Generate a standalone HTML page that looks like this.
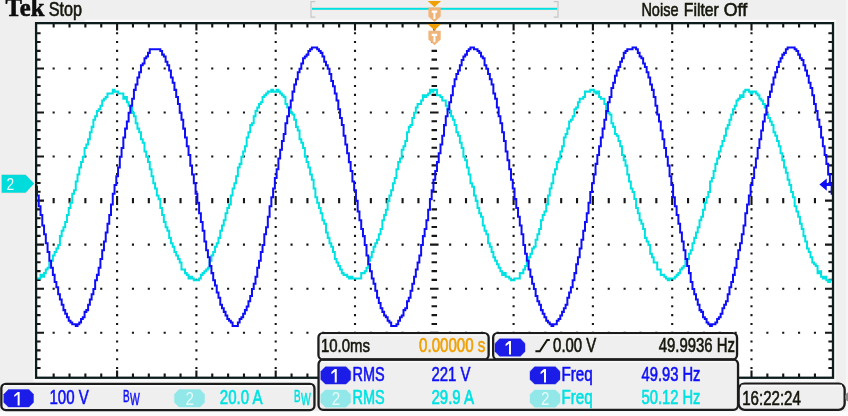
<!DOCTYPE html>
<html><head><meta charset="utf-8"><title>Tek scope</title>
<style>html,body{margin:0;padding:0;background:#efefef;}body{width:848px;height:416px;overflow:hidden;font-family:"Liberation Sans",sans-serif;}svg{display:block;}</style>
</head><body>
<svg width="848" height="416" viewBox="0 0 848 416" font-family="Liberation Sans, sans-serif">
<defs><filter id="soft" x="-10" y="-10" width="868" height="436" filterUnits="userSpaceOnUse"><feGaussianBlur stdDeviation="0.45"/></filter></defs>
<rect x="0" y="0" width="848" height="416" fill="#efefef"/>
<g filter="url(#soft)">
<rect x="-12" y="-12" width="872" height="440" fill="#efefef"/>
<rect x="85" y="19.6" width="751" height="2.6" fill="#fbfbfb"/>
<rect x="845.8" y="-12" width="14" height="440" fill="#f6f6f6"/>
<rect x="35" y="378.5" width="801" height="4.3" fill="#f9f9f9"/>
<rect x="834" y="21" width="2" height="360" fill="#f7f7f7"/>
<rect x="33.2" y="40" width="2" height="342" fill="#f8f8f8"/>
<rect x="-12" y="411.3" width="872" height="18" fill="#fcfcfc"/>
<rect x="36" y="23" width="797" height="355" fill="#ffffff"/>
<path d="M116.05 32.16h2.1v2.1h-2.1zM116.05 40.97h2.1v2.1h-2.1zM116.05 49.78h2.1v2.1h-2.1zM116.05 58.59h2.1v2.1h-2.1zM116.05 67.40h2.1v2.1h-2.1zM116.05 76.21h2.1v2.1h-2.1zM116.05 85.02h2.1v2.1h-2.1zM116.05 93.83h2.1v2.1h-2.1zM116.05 102.64h2.1v2.1h-2.1zM116.05 111.45h2.1v2.1h-2.1zM116.05 120.26h2.1v2.1h-2.1zM116.05 129.07h2.1v2.1h-2.1zM116.05 137.88h2.1v2.1h-2.1zM116.05 146.69h2.1v2.1h-2.1zM116.05 155.50h2.1v2.1h-2.1zM116.05 164.31h2.1v2.1h-2.1zM116.05 173.12h2.1v2.1h-2.1zM116.05 181.93h2.1v2.1h-2.1zM116.05 190.74h2.1v2.1h-2.1zM116.05 199.55h2.1v2.1h-2.1zM116.05 208.36h2.1v2.1h-2.1zM116.05 217.17h2.1v2.1h-2.1zM116.05 225.98h2.1v2.1h-2.1zM116.05 234.79h2.1v2.1h-2.1zM116.05 243.60h2.1v2.1h-2.1zM116.05 252.41h2.1v2.1h-2.1zM116.05 261.22h2.1v2.1h-2.1zM116.05 270.03h2.1v2.1h-2.1zM116.05 278.84h2.1v2.1h-2.1zM116.05 287.65h2.1v2.1h-2.1zM116.05 296.46h2.1v2.1h-2.1zM116.05 305.27h2.1v2.1h-2.1zM116.05 314.08h2.1v2.1h-2.1zM116.05 322.89h2.1v2.1h-2.1zM116.05 331.70h2.1v2.1h-2.1zM116.05 340.51h2.1v2.1h-2.1zM116.05 349.32h2.1v2.1h-2.1zM116.05 358.13h2.1v2.1h-2.1zM116.05 366.94h2.1v2.1h-2.1zM195.35 32.16h2.1v2.1h-2.1zM195.35 40.97h2.1v2.1h-2.1zM195.35 49.78h2.1v2.1h-2.1zM195.35 58.59h2.1v2.1h-2.1zM195.35 67.40h2.1v2.1h-2.1zM195.35 76.21h2.1v2.1h-2.1zM195.35 85.02h2.1v2.1h-2.1zM195.35 93.83h2.1v2.1h-2.1zM195.35 102.64h2.1v2.1h-2.1zM195.35 111.45h2.1v2.1h-2.1zM195.35 120.26h2.1v2.1h-2.1zM195.35 129.07h2.1v2.1h-2.1zM195.35 137.88h2.1v2.1h-2.1zM195.35 146.69h2.1v2.1h-2.1zM195.35 155.50h2.1v2.1h-2.1zM195.35 164.31h2.1v2.1h-2.1zM195.35 173.12h2.1v2.1h-2.1zM195.35 181.93h2.1v2.1h-2.1zM195.35 190.74h2.1v2.1h-2.1zM195.35 199.55h2.1v2.1h-2.1zM195.35 208.36h2.1v2.1h-2.1zM195.35 217.17h2.1v2.1h-2.1zM195.35 225.98h2.1v2.1h-2.1zM195.35 234.79h2.1v2.1h-2.1zM195.35 243.60h2.1v2.1h-2.1zM195.35 252.41h2.1v2.1h-2.1zM195.35 261.22h2.1v2.1h-2.1zM195.35 270.03h2.1v2.1h-2.1zM195.35 278.84h2.1v2.1h-2.1zM195.35 287.65h2.1v2.1h-2.1zM195.35 296.46h2.1v2.1h-2.1zM195.35 305.27h2.1v2.1h-2.1zM195.35 314.08h2.1v2.1h-2.1zM195.35 322.89h2.1v2.1h-2.1zM195.35 331.70h2.1v2.1h-2.1zM195.35 340.51h2.1v2.1h-2.1zM195.35 349.32h2.1v2.1h-2.1zM195.35 358.13h2.1v2.1h-2.1zM195.35 366.94h2.1v2.1h-2.1zM274.65 32.16h2.1v2.1h-2.1zM274.65 40.97h2.1v2.1h-2.1zM274.65 49.78h2.1v2.1h-2.1zM274.65 58.59h2.1v2.1h-2.1zM274.65 67.40h2.1v2.1h-2.1zM274.65 76.21h2.1v2.1h-2.1zM274.65 85.02h2.1v2.1h-2.1zM274.65 93.83h2.1v2.1h-2.1zM274.65 102.64h2.1v2.1h-2.1zM274.65 111.45h2.1v2.1h-2.1zM274.65 120.26h2.1v2.1h-2.1zM274.65 129.07h2.1v2.1h-2.1zM274.65 137.88h2.1v2.1h-2.1zM274.65 146.69h2.1v2.1h-2.1zM274.65 155.50h2.1v2.1h-2.1zM274.65 164.31h2.1v2.1h-2.1zM274.65 173.12h2.1v2.1h-2.1zM274.65 181.93h2.1v2.1h-2.1zM274.65 190.74h2.1v2.1h-2.1zM274.65 199.55h2.1v2.1h-2.1zM274.65 208.36h2.1v2.1h-2.1zM274.65 217.17h2.1v2.1h-2.1zM274.65 225.98h2.1v2.1h-2.1zM274.65 234.79h2.1v2.1h-2.1zM274.65 243.60h2.1v2.1h-2.1zM274.65 252.41h2.1v2.1h-2.1zM274.65 261.22h2.1v2.1h-2.1zM274.65 270.03h2.1v2.1h-2.1zM274.65 278.84h2.1v2.1h-2.1zM274.65 287.65h2.1v2.1h-2.1zM274.65 296.46h2.1v2.1h-2.1zM274.65 305.27h2.1v2.1h-2.1zM274.65 314.08h2.1v2.1h-2.1zM274.65 322.89h2.1v2.1h-2.1zM274.65 331.70h2.1v2.1h-2.1zM274.65 340.51h2.1v2.1h-2.1zM274.65 349.32h2.1v2.1h-2.1zM274.65 358.13h2.1v2.1h-2.1zM274.65 366.94h2.1v2.1h-2.1zM353.95 32.16h2.1v2.1h-2.1zM353.95 40.97h2.1v2.1h-2.1zM353.95 49.78h2.1v2.1h-2.1zM353.95 58.59h2.1v2.1h-2.1zM353.95 67.40h2.1v2.1h-2.1zM353.95 76.21h2.1v2.1h-2.1zM353.95 85.02h2.1v2.1h-2.1zM353.95 93.83h2.1v2.1h-2.1zM353.95 102.64h2.1v2.1h-2.1zM353.95 111.45h2.1v2.1h-2.1zM353.95 120.26h2.1v2.1h-2.1zM353.95 129.07h2.1v2.1h-2.1zM353.95 137.88h2.1v2.1h-2.1zM353.95 146.69h2.1v2.1h-2.1zM353.95 155.50h2.1v2.1h-2.1zM353.95 164.31h2.1v2.1h-2.1zM353.95 173.12h2.1v2.1h-2.1zM353.95 181.93h2.1v2.1h-2.1zM353.95 190.74h2.1v2.1h-2.1zM353.95 199.55h2.1v2.1h-2.1zM353.95 208.36h2.1v2.1h-2.1zM353.95 217.17h2.1v2.1h-2.1zM353.95 225.98h2.1v2.1h-2.1zM353.95 234.79h2.1v2.1h-2.1zM353.95 243.60h2.1v2.1h-2.1zM353.95 252.41h2.1v2.1h-2.1zM353.95 261.22h2.1v2.1h-2.1zM353.95 270.03h2.1v2.1h-2.1zM353.95 278.84h2.1v2.1h-2.1zM353.95 287.65h2.1v2.1h-2.1zM353.95 296.46h2.1v2.1h-2.1zM353.95 305.27h2.1v2.1h-2.1zM353.95 314.08h2.1v2.1h-2.1zM353.95 322.89h2.1v2.1h-2.1zM353.95 331.70h2.1v2.1h-2.1zM353.95 340.51h2.1v2.1h-2.1zM353.95 349.32h2.1v2.1h-2.1zM353.95 358.13h2.1v2.1h-2.1zM353.95 366.94h2.1v2.1h-2.1zM512.55 32.16h2.1v2.1h-2.1zM512.55 40.97h2.1v2.1h-2.1zM512.55 49.78h2.1v2.1h-2.1zM512.55 58.59h2.1v2.1h-2.1zM512.55 67.40h2.1v2.1h-2.1zM512.55 76.21h2.1v2.1h-2.1zM512.55 85.02h2.1v2.1h-2.1zM512.55 93.83h2.1v2.1h-2.1zM512.55 102.64h2.1v2.1h-2.1zM512.55 111.45h2.1v2.1h-2.1zM512.55 120.26h2.1v2.1h-2.1zM512.55 129.07h2.1v2.1h-2.1zM512.55 137.88h2.1v2.1h-2.1zM512.55 146.69h2.1v2.1h-2.1zM512.55 155.50h2.1v2.1h-2.1zM512.55 164.31h2.1v2.1h-2.1zM512.55 173.12h2.1v2.1h-2.1zM512.55 181.93h2.1v2.1h-2.1zM512.55 190.74h2.1v2.1h-2.1zM512.55 199.55h2.1v2.1h-2.1zM512.55 208.36h2.1v2.1h-2.1zM512.55 217.17h2.1v2.1h-2.1zM512.55 225.98h2.1v2.1h-2.1zM512.55 234.79h2.1v2.1h-2.1zM512.55 243.60h2.1v2.1h-2.1zM512.55 252.41h2.1v2.1h-2.1zM512.55 261.22h2.1v2.1h-2.1zM512.55 270.03h2.1v2.1h-2.1zM512.55 278.84h2.1v2.1h-2.1zM512.55 287.65h2.1v2.1h-2.1zM512.55 296.46h2.1v2.1h-2.1zM512.55 305.27h2.1v2.1h-2.1zM512.55 314.08h2.1v2.1h-2.1zM512.55 322.89h2.1v2.1h-2.1zM512.55 331.70h2.1v2.1h-2.1zM512.55 340.51h2.1v2.1h-2.1zM512.55 349.32h2.1v2.1h-2.1zM512.55 358.13h2.1v2.1h-2.1zM512.55 366.94h2.1v2.1h-2.1zM591.85 32.16h2.1v2.1h-2.1zM591.85 40.97h2.1v2.1h-2.1zM591.85 49.78h2.1v2.1h-2.1zM591.85 58.59h2.1v2.1h-2.1zM591.85 67.40h2.1v2.1h-2.1zM591.85 76.21h2.1v2.1h-2.1zM591.85 85.02h2.1v2.1h-2.1zM591.85 93.83h2.1v2.1h-2.1zM591.85 102.64h2.1v2.1h-2.1zM591.85 111.45h2.1v2.1h-2.1zM591.85 120.26h2.1v2.1h-2.1zM591.85 129.07h2.1v2.1h-2.1zM591.85 137.88h2.1v2.1h-2.1zM591.85 146.69h2.1v2.1h-2.1zM591.85 155.50h2.1v2.1h-2.1zM591.85 164.31h2.1v2.1h-2.1zM591.85 173.12h2.1v2.1h-2.1zM591.85 181.93h2.1v2.1h-2.1zM591.85 190.74h2.1v2.1h-2.1zM591.85 199.55h2.1v2.1h-2.1zM591.85 208.36h2.1v2.1h-2.1zM591.85 217.17h2.1v2.1h-2.1zM591.85 225.98h2.1v2.1h-2.1zM591.85 234.79h2.1v2.1h-2.1zM591.85 243.60h2.1v2.1h-2.1zM591.85 252.41h2.1v2.1h-2.1zM591.85 261.22h2.1v2.1h-2.1zM591.85 270.03h2.1v2.1h-2.1zM591.85 278.84h2.1v2.1h-2.1zM591.85 287.65h2.1v2.1h-2.1zM591.85 296.46h2.1v2.1h-2.1zM591.85 305.27h2.1v2.1h-2.1zM591.85 314.08h2.1v2.1h-2.1zM591.85 322.89h2.1v2.1h-2.1zM591.85 331.70h2.1v2.1h-2.1zM591.85 340.51h2.1v2.1h-2.1zM591.85 349.32h2.1v2.1h-2.1zM591.85 358.13h2.1v2.1h-2.1zM591.85 366.94h2.1v2.1h-2.1zM671.15 32.16h2.1v2.1h-2.1zM671.15 40.97h2.1v2.1h-2.1zM671.15 49.78h2.1v2.1h-2.1zM671.15 58.59h2.1v2.1h-2.1zM671.15 67.40h2.1v2.1h-2.1zM671.15 76.21h2.1v2.1h-2.1zM671.15 85.02h2.1v2.1h-2.1zM671.15 93.83h2.1v2.1h-2.1zM671.15 102.64h2.1v2.1h-2.1zM671.15 111.45h2.1v2.1h-2.1zM671.15 120.26h2.1v2.1h-2.1zM671.15 129.07h2.1v2.1h-2.1zM671.15 137.88h2.1v2.1h-2.1zM671.15 146.69h2.1v2.1h-2.1zM671.15 155.50h2.1v2.1h-2.1zM671.15 164.31h2.1v2.1h-2.1zM671.15 173.12h2.1v2.1h-2.1zM671.15 181.93h2.1v2.1h-2.1zM671.15 190.74h2.1v2.1h-2.1zM671.15 199.55h2.1v2.1h-2.1zM671.15 208.36h2.1v2.1h-2.1zM671.15 217.17h2.1v2.1h-2.1zM671.15 225.98h2.1v2.1h-2.1zM671.15 234.79h2.1v2.1h-2.1zM671.15 243.60h2.1v2.1h-2.1zM671.15 252.41h2.1v2.1h-2.1zM671.15 261.22h2.1v2.1h-2.1zM671.15 270.03h2.1v2.1h-2.1zM671.15 278.84h2.1v2.1h-2.1zM671.15 287.65h2.1v2.1h-2.1zM671.15 296.46h2.1v2.1h-2.1zM671.15 305.27h2.1v2.1h-2.1zM671.15 314.08h2.1v2.1h-2.1zM671.15 322.89h2.1v2.1h-2.1zM671.15 331.70h2.1v2.1h-2.1zM671.15 340.51h2.1v2.1h-2.1zM671.15 349.32h2.1v2.1h-2.1zM671.15 358.13h2.1v2.1h-2.1zM671.15 366.94h2.1v2.1h-2.1zM750.45 32.16h2.1v2.1h-2.1zM750.45 40.97h2.1v2.1h-2.1zM750.45 49.78h2.1v2.1h-2.1zM750.45 58.59h2.1v2.1h-2.1zM750.45 67.40h2.1v2.1h-2.1zM750.45 76.21h2.1v2.1h-2.1zM750.45 85.02h2.1v2.1h-2.1zM750.45 93.83h2.1v2.1h-2.1zM750.45 102.64h2.1v2.1h-2.1zM750.45 111.45h2.1v2.1h-2.1zM750.45 120.26h2.1v2.1h-2.1zM750.45 129.07h2.1v2.1h-2.1zM750.45 137.88h2.1v2.1h-2.1zM750.45 146.69h2.1v2.1h-2.1zM750.45 155.50h2.1v2.1h-2.1zM750.45 164.31h2.1v2.1h-2.1zM750.45 173.12h2.1v2.1h-2.1zM750.45 181.93h2.1v2.1h-2.1zM750.45 190.74h2.1v2.1h-2.1zM750.45 199.55h2.1v2.1h-2.1zM750.45 208.36h2.1v2.1h-2.1zM750.45 217.17h2.1v2.1h-2.1zM750.45 225.98h2.1v2.1h-2.1zM750.45 234.79h2.1v2.1h-2.1zM750.45 243.60h2.1v2.1h-2.1zM750.45 252.41h2.1v2.1h-2.1zM750.45 261.22h2.1v2.1h-2.1zM750.45 270.03h2.1v2.1h-2.1zM750.45 278.84h2.1v2.1h-2.1zM750.45 287.65h2.1v2.1h-2.1zM750.45 296.46h2.1v2.1h-2.1zM750.45 305.27h2.1v2.1h-2.1zM750.45 314.08h2.1v2.1h-2.1zM750.45 322.89h2.1v2.1h-2.1zM750.45 331.70h2.1v2.1h-2.1zM750.45 340.51h2.1v2.1h-2.1zM750.45 349.32h2.1v2.1h-2.1zM750.45 358.13h2.1v2.1h-2.1zM750.45 366.94h2.1v2.1h-2.1zM52.61 67.40h2.1v2.1h-2.1zM68.47 67.40h2.1v2.1h-2.1zM84.33 67.40h2.1v2.1h-2.1zM100.19 67.40h2.1v2.1h-2.1zM131.91 67.40h2.1v2.1h-2.1zM147.77 67.40h2.1v2.1h-2.1zM163.63 67.40h2.1v2.1h-2.1zM179.49 67.40h2.1v2.1h-2.1zM211.21 67.40h2.1v2.1h-2.1zM227.07 67.40h2.1v2.1h-2.1zM242.93 67.40h2.1v2.1h-2.1zM258.79 67.40h2.1v2.1h-2.1zM290.51 67.40h2.1v2.1h-2.1zM306.37 67.40h2.1v2.1h-2.1zM322.23 67.40h2.1v2.1h-2.1zM338.09 67.40h2.1v2.1h-2.1zM369.81 67.40h2.1v2.1h-2.1zM385.67 67.40h2.1v2.1h-2.1zM401.53 67.40h2.1v2.1h-2.1zM417.39 67.40h2.1v2.1h-2.1zM449.11 67.40h2.1v2.1h-2.1zM464.97 67.40h2.1v2.1h-2.1zM480.83 67.40h2.1v2.1h-2.1zM496.69 67.40h2.1v2.1h-2.1zM528.41 67.40h2.1v2.1h-2.1zM544.27 67.40h2.1v2.1h-2.1zM560.13 67.40h2.1v2.1h-2.1zM575.99 67.40h2.1v2.1h-2.1zM607.71 67.40h2.1v2.1h-2.1zM623.57 67.40h2.1v2.1h-2.1zM639.43 67.40h2.1v2.1h-2.1zM655.29 67.40h2.1v2.1h-2.1zM687.01 67.40h2.1v2.1h-2.1zM702.87 67.40h2.1v2.1h-2.1zM718.73 67.40h2.1v2.1h-2.1zM734.59 67.40h2.1v2.1h-2.1zM766.31 67.40h2.1v2.1h-2.1zM782.17 67.40h2.1v2.1h-2.1zM798.03 67.40h2.1v2.1h-2.1zM813.89 67.40h2.1v2.1h-2.1zM52.61 111.45h2.1v2.1h-2.1zM68.47 111.45h2.1v2.1h-2.1zM84.33 111.45h2.1v2.1h-2.1zM100.19 111.45h2.1v2.1h-2.1zM131.91 111.45h2.1v2.1h-2.1zM147.77 111.45h2.1v2.1h-2.1zM163.63 111.45h2.1v2.1h-2.1zM179.49 111.45h2.1v2.1h-2.1zM211.21 111.45h2.1v2.1h-2.1zM227.07 111.45h2.1v2.1h-2.1zM242.93 111.45h2.1v2.1h-2.1zM258.79 111.45h2.1v2.1h-2.1zM290.51 111.45h2.1v2.1h-2.1zM306.37 111.45h2.1v2.1h-2.1zM322.23 111.45h2.1v2.1h-2.1zM338.09 111.45h2.1v2.1h-2.1zM369.81 111.45h2.1v2.1h-2.1zM385.67 111.45h2.1v2.1h-2.1zM401.53 111.45h2.1v2.1h-2.1zM417.39 111.45h2.1v2.1h-2.1zM449.11 111.45h2.1v2.1h-2.1zM464.97 111.45h2.1v2.1h-2.1zM480.83 111.45h2.1v2.1h-2.1zM496.69 111.45h2.1v2.1h-2.1zM528.41 111.45h2.1v2.1h-2.1zM544.27 111.45h2.1v2.1h-2.1zM560.13 111.45h2.1v2.1h-2.1zM575.99 111.45h2.1v2.1h-2.1zM607.71 111.45h2.1v2.1h-2.1zM623.57 111.45h2.1v2.1h-2.1zM639.43 111.45h2.1v2.1h-2.1zM655.29 111.45h2.1v2.1h-2.1zM687.01 111.45h2.1v2.1h-2.1zM702.87 111.45h2.1v2.1h-2.1zM718.73 111.45h2.1v2.1h-2.1zM734.59 111.45h2.1v2.1h-2.1zM766.31 111.45h2.1v2.1h-2.1zM782.17 111.45h2.1v2.1h-2.1zM798.03 111.45h2.1v2.1h-2.1zM813.89 111.45h2.1v2.1h-2.1zM52.61 155.50h2.1v2.1h-2.1zM68.47 155.50h2.1v2.1h-2.1zM84.33 155.50h2.1v2.1h-2.1zM100.19 155.50h2.1v2.1h-2.1zM131.91 155.50h2.1v2.1h-2.1zM147.77 155.50h2.1v2.1h-2.1zM163.63 155.50h2.1v2.1h-2.1zM179.49 155.50h2.1v2.1h-2.1zM211.21 155.50h2.1v2.1h-2.1zM227.07 155.50h2.1v2.1h-2.1zM242.93 155.50h2.1v2.1h-2.1zM258.79 155.50h2.1v2.1h-2.1zM290.51 155.50h2.1v2.1h-2.1zM306.37 155.50h2.1v2.1h-2.1zM322.23 155.50h2.1v2.1h-2.1zM338.09 155.50h2.1v2.1h-2.1zM369.81 155.50h2.1v2.1h-2.1zM385.67 155.50h2.1v2.1h-2.1zM401.53 155.50h2.1v2.1h-2.1zM417.39 155.50h2.1v2.1h-2.1zM449.11 155.50h2.1v2.1h-2.1zM464.97 155.50h2.1v2.1h-2.1zM480.83 155.50h2.1v2.1h-2.1zM496.69 155.50h2.1v2.1h-2.1zM528.41 155.50h2.1v2.1h-2.1zM544.27 155.50h2.1v2.1h-2.1zM560.13 155.50h2.1v2.1h-2.1zM575.99 155.50h2.1v2.1h-2.1zM607.71 155.50h2.1v2.1h-2.1zM623.57 155.50h2.1v2.1h-2.1zM639.43 155.50h2.1v2.1h-2.1zM655.29 155.50h2.1v2.1h-2.1zM687.01 155.50h2.1v2.1h-2.1zM702.87 155.50h2.1v2.1h-2.1zM718.73 155.50h2.1v2.1h-2.1zM734.59 155.50h2.1v2.1h-2.1zM766.31 155.50h2.1v2.1h-2.1zM782.17 155.50h2.1v2.1h-2.1zM798.03 155.50h2.1v2.1h-2.1zM813.89 155.50h2.1v2.1h-2.1zM52.61 243.60h2.1v2.1h-2.1zM68.47 243.60h2.1v2.1h-2.1zM84.33 243.60h2.1v2.1h-2.1zM100.19 243.60h2.1v2.1h-2.1zM131.91 243.60h2.1v2.1h-2.1zM147.77 243.60h2.1v2.1h-2.1zM163.63 243.60h2.1v2.1h-2.1zM179.49 243.60h2.1v2.1h-2.1zM211.21 243.60h2.1v2.1h-2.1zM227.07 243.60h2.1v2.1h-2.1zM242.93 243.60h2.1v2.1h-2.1zM258.79 243.60h2.1v2.1h-2.1zM290.51 243.60h2.1v2.1h-2.1zM306.37 243.60h2.1v2.1h-2.1zM322.23 243.60h2.1v2.1h-2.1zM338.09 243.60h2.1v2.1h-2.1zM369.81 243.60h2.1v2.1h-2.1zM385.67 243.60h2.1v2.1h-2.1zM401.53 243.60h2.1v2.1h-2.1zM417.39 243.60h2.1v2.1h-2.1zM449.11 243.60h2.1v2.1h-2.1zM464.97 243.60h2.1v2.1h-2.1zM480.83 243.60h2.1v2.1h-2.1zM496.69 243.60h2.1v2.1h-2.1zM528.41 243.60h2.1v2.1h-2.1zM544.27 243.60h2.1v2.1h-2.1zM560.13 243.60h2.1v2.1h-2.1zM575.99 243.60h2.1v2.1h-2.1zM607.71 243.60h2.1v2.1h-2.1zM623.57 243.60h2.1v2.1h-2.1zM639.43 243.60h2.1v2.1h-2.1zM655.29 243.60h2.1v2.1h-2.1zM687.01 243.60h2.1v2.1h-2.1zM702.87 243.60h2.1v2.1h-2.1zM718.73 243.60h2.1v2.1h-2.1zM734.59 243.60h2.1v2.1h-2.1zM766.31 243.60h2.1v2.1h-2.1zM782.17 243.60h2.1v2.1h-2.1zM798.03 243.60h2.1v2.1h-2.1zM813.89 243.60h2.1v2.1h-2.1zM52.61 287.65h2.1v2.1h-2.1zM68.47 287.65h2.1v2.1h-2.1zM84.33 287.65h2.1v2.1h-2.1zM100.19 287.65h2.1v2.1h-2.1zM131.91 287.65h2.1v2.1h-2.1zM147.77 287.65h2.1v2.1h-2.1zM163.63 287.65h2.1v2.1h-2.1zM179.49 287.65h2.1v2.1h-2.1zM211.21 287.65h2.1v2.1h-2.1zM227.07 287.65h2.1v2.1h-2.1zM242.93 287.65h2.1v2.1h-2.1zM258.79 287.65h2.1v2.1h-2.1zM290.51 287.65h2.1v2.1h-2.1zM306.37 287.65h2.1v2.1h-2.1zM322.23 287.65h2.1v2.1h-2.1zM338.09 287.65h2.1v2.1h-2.1zM369.81 287.65h2.1v2.1h-2.1zM385.67 287.65h2.1v2.1h-2.1zM401.53 287.65h2.1v2.1h-2.1zM417.39 287.65h2.1v2.1h-2.1zM449.11 287.65h2.1v2.1h-2.1zM464.97 287.65h2.1v2.1h-2.1zM480.83 287.65h2.1v2.1h-2.1zM496.69 287.65h2.1v2.1h-2.1zM528.41 287.65h2.1v2.1h-2.1zM544.27 287.65h2.1v2.1h-2.1zM560.13 287.65h2.1v2.1h-2.1zM575.99 287.65h2.1v2.1h-2.1zM607.71 287.65h2.1v2.1h-2.1zM623.57 287.65h2.1v2.1h-2.1zM639.43 287.65h2.1v2.1h-2.1zM655.29 287.65h2.1v2.1h-2.1zM687.01 287.65h2.1v2.1h-2.1zM702.87 287.65h2.1v2.1h-2.1zM718.73 287.65h2.1v2.1h-2.1zM734.59 287.65h2.1v2.1h-2.1zM766.31 287.65h2.1v2.1h-2.1zM782.17 287.65h2.1v2.1h-2.1zM798.03 287.65h2.1v2.1h-2.1zM813.89 287.65h2.1v2.1h-2.1zM52.61 331.70h2.1v2.1h-2.1zM68.47 331.70h2.1v2.1h-2.1zM84.33 331.70h2.1v2.1h-2.1zM100.19 331.70h2.1v2.1h-2.1zM131.91 331.70h2.1v2.1h-2.1zM147.77 331.70h2.1v2.1h-2.1zM163.63 331.70h2.1v2.1h-2.1zM179.49 331.70h2.1v2.1h-2.1zM211.21 331.70h2.1v2.1h-2.1zM227.07 331.70h2.1v2.1h-2.1zM242.93 331.70h2.1v2.1h-2.1zM258.79 331.70h2.1v2.1h-2.1zM290.51 331.70h2.1v2.1h-2.1zM306.37 331.70h2.1v2.1h-2.1zM322.23 331.70h2.1v2.1h-2.1zM338.09 331.70h2.1v2.1h-2.1zM369.81 331.70h2.1v2.1h-2.1zM385.67 331.70h2.1v2.1h-2.1zM401.53 331.70h2.1v2.1h-2.1zM417.39 331.70h2.1v2.1h-2.1zM449.11 331.70h2.1v2.1h-2.1zM464.97 331.70h2.1v2.1h-2.1zM480.83 331.70h2.1v2.1h-2.1zM496.69 331.70h2.1v2.1h-2.1zM528.41 331.70h2.1v2.1h-2.1zM544.27 331.70h2.1v2.1h-2.1zM560.13 331.70h2.1v2.1h-2.1zM575.99 331.70h2.1v2.1h-2.1zM607.71 331.70h2.1v2.1h-2.1zM623.57 331.70h2.1v2.1h-2.1zM639.43 331.70h2.1v2.1h-2.1zM655.29 331.70h2.1v2.1h-2.1zM687.01 331.70h2.1v2.1h-2.1zM702.87 331.70h2.1v2.1h-2.1zM718.73 331.70h2.1v2.1h-2.1zM734.59 331.70h2.1v2.1h-2.1zM766.31 331.70h2.1v2.1h-2.1zM782.17 331.70h2.1v2.1h-2.1zM798.03 331.70h2.1v2.1h-2.1zM813.89 331.70h2.1v2.1h-2.1zM431.55 32.16h5.5v2.1h-5.5zM431.55 40.97h5.5v2.1h-5.5zM431.55 49.78h5.5v2.1h-5.5zM431.55 58.59h5.5v2.1h-5.5zM430.05 67.40h8.5v2.1h-8.5zM431.55 76.21h5.5v2.1h-5.5zM431.55 85.02h5.5v2.1h-5.5zM431.55 93.83h5.5v2.1h-5.5zM431.55 102.64h5.5v2.1h-5.5zM430.05 111.45h8.5v2.1h-8.5zM431.55 120.26h5.5v2.1h-5.5zM431.55 129.07h5.5v2.1h-5.5zM431.55 137.88h5.5v2.1h-5.5zM431.55 146.69h5.5v2.1h-5.5zM430.05 155.50h8.5v2.1h-8.5zM431.55 164.31h5.5v2.1h-5.5zM431.55 173.12h5.5v2.1h-5.5zM431.55 181.93h5.5v2.1h-5.5zM431.55 190.74h5.5v2.1h-5.5zM431.55 208.36h5.5v2.1h-5.5zM431.55 217.17h5.5v2.1h-5.5zM431.55 225.98h5.5v2.1h-5.5zM431.55 234.79h5.5v2.1h-5.5zM430.05 243.60h8.5v2.1h-8.5zM431.55 252.41h5.5v2.1h-5.5zM431.55 261.22h5.5v2.1h-5.5zM431.55 270.03h5.5v2.1h-5.5zM431.55 278.84h5.5v2.1h-5.5zM430.05 287.65h8.5v2.1h-8.5zM431.55 296.46h5.5v2.1h-5.5zM431.55 305.27h5.5v2.1h-5.5zM431.55 314.08h5.5v2.1h-5.5zM431.55 322.89h5.5v2.1h-5.5zM430.05 331.70h8.5v2.1h-8.5zM431.55 340.51h5.5v2.1h-5.5zM431.55 349.32h5.5v2.1h-5.5zM431.55 358.13h5.5v2.1h-5.5zM431.55 366.94h5.5v2.1h-5.5zM52.61 197.90h2.1v5.4h-2.1zM68.47 197.90h2.1v5.4h-2.1zM84.33 197.90h2.1v5.4h-2.1zM100.19 197.90h2.1v5.4h-2.1zM116.05 196.10h2.1v9.0h-2.1zM131.91 197.90h2.1v5.4h-2.1zM147.77 197.90h2.1v5.4h-2.1zM163.63 197.90h2.1v5.4h-2.1zM179.49 197.90h2.1v5.4h-2.1zM195.35 196.10h2.1v9.0h-2.1zM211.21 197.90h2.1v5.4h-2.1zM227.07 197.90h2.1v5.4h-2.1zM242.93 197.90h2.1v5.4h-2.1zM258.79 197.90h2.1v5.4h-2.1zM274.65 196.10h2.1v9.0h-2.1zM290.51 197.90h2.1v5.4h-2.1zM306.37 197.90h2.1v5.4h-2.1zM322.23 197.90h2.1v5.4h-2.1zM338.09 197.90h2.1v5.4h-2.1zM353.95 196.10h2.1v9.0h-2.1zM369.81 197.90h2.1v5.4h-2.1zM385.67 197.90h2.1v5.4h-2.1zM401.53 197.90h2.1v5.4h-2.1zM417.39 197.90h2.1v5.4h-2.1zM449.11 197.90h2.1v5.4h-2.1zM464.97 197.90h2.1v5.4h-2.1zM480.83 197.90h2.1v5.4h-2.1zM496.69 197.90h2.1v5.4h-2.1zM512.55 196.10h2.1v9.0h-2.1zM528.41 197.90h2.1v5.4h-2.1zM544.27 197.90h2.1v5.4h-2.1zM560.13 197.90h2.1v5.4h-2.1zM575.99 197.90h2.1v5.4h-2.1zM591.85 196.10h2.1v9.0h-2.1zM607.71 197.90h2.1v5.4h-2.1zM623.57 197.90h2.1v5.4h-2.1zM639.43 197.90h2.1v5.4h-2.1zM655.29 197.90h2.1v5.4h-2.1zM671.15 196.10h2.1v9.0h-2.1zM687.01 197.90h2.1v5.4h-2.1zM702.87 197.90h2.1v5.4h-2.1zM718.73 197.90h2.1v5.4h-2.1zM734.59 197.90h2.1v5.4h-2.1zM750.45 196.10h2.1v9.0h-2.1zM766.31 197.90h2.1v5.4h-2.1zM782.17 197.90h2.1v5.4h-2.1zM798.03 197.90h2.1v5.4h-2.1zM813.89 197.90h2.1v5.4h-2.1zM433.40 199.70h1.8v1.8h-1.8zM52.61 24h2.1v3.6h-2.1zM52.61 373.40h2.1v3.6h-2.1zM68.47 24h2.1v3.6h-2.1zM68.47 373.40h2.1v3.6h-2.1zM84.33 24h2.1v3.6h-2.1zM84.33 373.40h2.1v3.6h-2.1zM100.19 24h2.1v3.6h-2.1zM100.19 373.40h2.1v3.6h-2.1zM116.05 24h2.1v6.5h-2.1zM116.05 370.50h2.1v6.5h-2.1zM131.91 24h2.1v3.6h-2.1zM131.91 373.40h2.1v3.6h-2.1zM147.77 24h2.1v3.6h-2.1zM147.77 373.40h2.1v3.6h-2.1zM163.63 24h2.1v3.6h-2.1zM163.63 373.40h2.1v3.6h-2.1zM179.49 24h2.1v3.6h-2.1zM179.49 373.40h2.1v3.6h-2.1zM195.35 24h2.1v6.5h-2.1zM195.35 370.50h2.1v6.5h-2.1zM211.21 24h2.1v3.6h-2.1zM211.21 373.40h2.1v3.6h-2.1zM227.07 24h2.1v3.6h-2.1zM227.07 373.40h2.1v3.6h-2.1zM242.93 24h2.1v3.6h-2.1zM242.93 373.40h2.1v3.6h-2.1zM258.79 24h2.1v3.6h-2.1zM258.79 373.40h2.1v3.6h-2.1zM274.65 24h2.1v6.5h-2.1zM274.65 370.50h2.1v6.5h-2.1zM290.51 24h2.1v3.6h-2.1zM290.51 373.40h2.1v3.6h-2.1zM306.37 24h2.1v3.6h-2.1zM306.37 373.40h2.1v3.6h-2.1zM322.23 24h2.1v3.6h-2.1zM322.23 373.40h2.1v3.6h-2.1zM338.09 24h2.1v3.6h-2.1zM338.09 373.40h2.1v3.6h-2.1zM353.95 24h2.1v6.5h-2.1zM353.95 370.50h2.1v6.5h-2.1zM369.81 24h2.1v3.6h-2.1zM369.81 373.40h2.1v3.6h-2.1zM385.67 24h2.1v3.6h-2.1zM385.67 373.40h2.1v3.6h-2.1zM401.53 24h2.1v3.6h-2.1zM401.53 373.40h2.1v3.6h-2.1zM417.39 24h2.1v3.6h-2.1zM417.39 373.40h2.1v3.6h-2.1zM433.25 24h2.1v6.5h-2.1zM433.25 370.50h2.1v6.5h-2.1zM449.11 24h2.1v3.6h-2.1zM449.11 373.40h2.1v3.6h-2.1zM464.97 24h2.1v3.6h-2.1zM464.97 373.40h2.1v3.6h-2.1zM480.83 24h2.1v3.6h-2.1zM480.83 373.40h2.1v3.6h-2.1zM496.69 24h2.1v3.6h-2.1zM496.69 373.40h2.1v3.6h-2.1zM512.55 24h2.1v6.5h-2.1zM512.55 370.50h2.1v6.5h-2.1zM528.41 24h2.1v3.6h-2.1zM528.41 373.40h2.1v3.6h-2.1zM544.27 24h2.1v3.6h-2.1zM544.27 373.40h2.1v3.6h-2.1zM560.13 24h2.1v3.6h-2.1zM560.13 373.40h2.1v3.6h-2.1zM575.99 24h2.1v3.6h-2.1zM575.99 373.40h2.1v3.6h-2.1zM591.85 24h2.1v6.5h-2.1zM591.85 370.50h2.1v6.5h-2.1zM607.71 24h2.1v3.6h-2.1zM607.71 373.40h2.1v3.6h-2.1zM623.57 24h2.1v3.6h-2.1zM623.57 373.40h2.1v3.6h-2.1zM639.43 24h2.1v3.6h-2.1zM639.43 373.40h2.1v3.6h-2.1zM655.29 24h2.1v3.6h-2.1zM655.29 373.40h2.1v3.6h-2.1zM671.15 24h2.1v6.5h-2.1zM671.15 370.50h2.1v6.5h-2.1zM687.01 24h2.1v3.6h-2.1zM687.01 373.40h2.1v3.6h-2.1zM702.87 24h2.1v3.6h-2.1zM702.87 373.40h2.1v3.6h-2.1zM718.73 24h2.1v3.6h-2.1zM718.73 373.40h2.1v3.6h-2.1zM734.59 24h2.1v3.6h-2.1zM734.59 373.40h2.1v3.6h-2.1zM750.45 24h2.1v6.5h-2.1zM750.45 370.50h2.1v6.5h-2.1zM766.31 24h2.1v3.6h-2.1zM766.31 373.40h2.1v3.6h-2.1zM782.17 24h2.1v3.6h-2.1zM782.17 373.40h2.1v3.6h-2.1zM798.03 24h2.1v3.6h-2.1zM798.03 373.40h2.1v3.6h-2.1zM813.89 24h2.1v3.6h-2.1zM813.89 373.40h2.1v3.6h-2.1zM37 32.16h3.6v2.1h-3.6zM828.40 32.16h3.6v2.1h-3.6zM37 40.97h3.6v2.1h-3.6zM828.40 40.97h3.6v2.1h-3.6zM37 49.78h3.6v2.1h-3.6zM828.40 49.78h3.6v2.1h-3.6zM37 58.59h3.6v2.1h-3.6zM828.40 58.59h3.6v2.1h-3.6zM37 67.40h7.0v2.1h-7.0zM825.00 67.40h7.0v2.1h-7.0zM37 76.21h3.6v2.1h-3.6zM828.40 76.21h3.6v2.1h-3.6zM37 85.02h3.6v2.1h-3.6zM828.40 85.02h3.6v2.1h-3.6zM37 93.83h3.6v2.1h-3.6zM828.40 93.83h3.6v2.1h-3.6zM37 102.64h3.6v2.1h-3.6zM828.40 102.64h3.6v2.1h-3.6zM37 111.45h7.0v2.1h-7.0zM825.00 111.45h7.0v2.1h-7.0zM37 120.26h3.6v2.1h-3.6zM828.40 120.26h3.6v2.1h-3.6zM37 129.07h3.6v2.1h-3.6zM828.40 129.07h3.6v2.1h-3.6zM37 137.88h3.6v2.1h-3.6zM828.40 137.88h3.6v2.1h-3.6zM37 146.69h3.6v2.1h-3.6zM828.40 146.69h3.6v2.1h-3.6zM37 155.50h7.0v2.1h-7.0zM825.00 155.50h7.0v2.1h-7.0zM37 164.31h3.6v2.1h-3.6zM828.40 164.31h3.6v2.1h-3.6zM37 173.12h3.6v2.1h-3.6zM828.40 173.12h3.6v2.1h-3.6zM37 181.93h3.6v2.1h-3.6zM828.40 181.93h3.6v2.1h-3.6zM37 190.74h3.6v2.1h-3.6zM828.40 190.74h3.6v2.1h-3.6zM37 199.55h7.0v2.1h-7.0zM825.00 199.55h7.0v2.1h-7.0zM37 208.36h3.6v2.1h-3.6zM828.40 208.36h3.6v2.1h-3.6zM37 217.17h3.6v2.1h-3.6zM828.40 217.17h3.6v2.1h-3.6zM37 225.98h3.6v2.1h-3.6zM828.40 225.98h3.6v2.1h-3.6zM37 234.79h3.6v2.1h-3.6zM828.40 234.79h3.6v2.1h-3.6zM37 243.60h7.0v2.1h-7.0zM825.00 243.60h7.0v2.1h-7.0zM37 252.41h3.6v2.1h-3.6zM828.40 252.41h3.6v2.1h-3.6zM37 261.22h3.6v2.1h-3.6zM828.40 261.22h3.6v2.1h-3.6zM37 270.03h3.6v2.1h-3.6zM828.40 270.03h3.6v2.1h-3.6zM37 278.84h3.6v2.1h-3.6zM828.40 278.84h3.6v2.1h-3.6zM37 287.65h7.0v2.1h-7.0zM825.00 287.65h7.0v2.1h-7.0zM37 296.46h3.6v2.1h-3.6zM828.40 296.46h3.6v2.1h-3.6zM37 305.27h3.6v2.1h-3.6zM828.40 305.27h3.6v2.1h-3.6zM37 314.08h3.6v2.1h-3.6zM828.40 314.08h3.6v2.1h-3.6zM37 322.89h3.6v2.1h-3.6zM828.40 322.89h3.6v2.1h-3.6zM37 331.70h7.0v2.1h-7.0zM825.00 331.70h7.0v2.1h-7.0zM37 340.51h3.6v2.1h-3.6zM828.40 340.51h3.6v2.1h-3.6zM37 349.32h3.6v2.1h-3.6zM828.40 349.32h3.6v2.1h-3.6zM37 358.13h3.6v2.1h-3.6zM828.40 358.13h3.6v2.1h-3.6zM37 366.94h3.6v2.1h-3.6zM828.40 366.94h3.6v2.1h-3.6z" fill="#141414"/>
<path d="M36.00 277.39h2.01v2.03h-2.01zM37.76 277.39h2.01v2.03h-2.01zM39.52 273.87h2.01v5.55h-2.01zM41.28 273.87h2.01v3.79h-2.01zM43.05 272.11h2.01v5.55h-2.01zM44.81 268.58h2.01v5.55h-2.01zM46.57 266.82h2.01v3.79h-2.01zM48.33 261.53h2.01v7.31h-2.01zM50.09 259.77h2.01v3.79h-2.01zM51.86 254.49h2.01v7.31h-2.01zM53.62 250.96h2.01v5.55h-2.01zM55.38 247.44h2.01v5.55h-2.01zM57.14 243.91h2.01v5.55h-2.01zM58.90 235.10h2.01v10.84h-2.01zM60.67 229.82h2.01v7.31h-2.01zM62.43 226.29h2.01v5.55h-2.01zM64.19 221.01h2.01v7.31h-2.01zM65.95 213.96h2.01v9.07h-2.01zM67.71 206.91h2.01v9.07h-2.01zM69.48 201.63h2.01v7.31h-2.01zM71.24 192.82h2.01v10.84h-2.01zM73.00 189.29h2.01v5.55h-2.01zM74.76 180.48h2.01v10.84h-2.01zM76.52 173.43h2.01v9.07h-2.01zM78.29 166.39h2.01v9.07h-2.01zM80.05 161.10h2.01v7.31h-2.01zM81.81 155.81h2.01v7.31h-2.01zM83.57 147.00h2.01v10.84h-2.01zM85.33 143.48h2.01v5.55h-2.01zM87.10 138.19h2.01v7.31h-2.01zM88.86 131.15h2.01v9.07h-2.01zM90.62 125.86h2.01v7.31h-2.01zM92.38 118.81h2.01v9.07h-2.01zM94.14 115.29h2.01v5.55h-2.01zM95.91 110.00h2.01v7.31h-2.01zM97.67 108.24h2.01v3.79h-2.01zM99.43 104.72h2.01v5.55h-2.01zM101.19 99.43h2.01v7.31h-2.01zM102.95 97.67h2.01v3.79h-2.01zM104.72 95.91h2.01v3.79h-2.01zM106.48 92.38h2.01v5.55h-2.01zM108.24 92.38h2.01v2.03h-2.01zM110.00 92.38h2.01v2.03h-2.01zM111.76 88.86h2.01v5.55h-2.01zM113.53 88.86h2.01v3.79h-2.01zM115.29 90.62h2.01v2.03h-2.01zM117.05 90.62h2.01v3.79h-2.01zM118.81 92.38h2.01v2.03h-2.01zM120.57 92.38h2.01v2.03h-2.01zM122.34 92.38h2.01v7.31h-2.01zM124.10 95.91h2.01v3.79h-2.01zM125.86 95.91h2.01v7.31h-2.01zM127.62 101.19h2.01v5.55h-2.01zM129.38 104.72h2.01v3.79h-2.01zM131.15 106.48h2.01v7.31h-2.01zM132.91 111.76h2.01v5.55h-2.01zM134.67 115.29h2.01v9.07h-2.01zM136.43 122.34h2.01v7.31h-2.01zM138.19 127.62h2.01v5.55h-2.01zM139.96 131.15h2.01v9.07h-2.01zM141.72 138.19h2.01v5.55h-2.01zM143.48 141.72h2.01v10.84h-2.01zM145.24 150.53h2.01v7.31h-2.01zM147.00 155.81h2.01v7.31h-2.01zM148.77 161.10h2.01v9.07h-2.01zM150.53 168.15h2.01v9.07h-2.01zM152.29 175.20h2.01v9.07h-2.01zM154.05 182.24h2.01v7.31h-2.01zM155.81 187.53h2.01v9.07h-2.01zM157.58 194.58h2.01v5.55h-2.01zM159.34 198.10h2.01v10.84h-2.01zM161.10 206.91h2.01v9.07h-2.01zM162.86 213.96h2.01v9.07h-2.01zM164.62 221.01h2.01v7.31h-2.01zM166.39 226.29h2.01v5.55h-2.01zM168.15 229.82h2.01v9.07h-2.01zM169.91 236.87h2.01v7.31h-2.01zM171.67 242.15h2.01v5.55h-2.01zM173.43 245.68h2.01v7.31h-2.01zM175.20 250.96h2.01v5.55h-2.01zM176.96 254.49h2.01v5.55h-2.01zM178.72 258.01h2.01v5.55h-2.01zM180.48 261.53h2.01v9.07h-2.01zM182.24 268.58h2.01v2.03h-2.01zM184.01 268.58h2.01v5.55h-2.01zM185.77 272.11h2.01v3.79h-2.01zM187.53 273.87h2.01v5.55h-2.01zM189.29 275.63h2.01v3.79h-2.01zM191.05 275.63h2.01v3.79h-2.01zM192.82 277.39h2.01v3.79h-2.01zM194.58 279.15h2.01v2.03h-2.01zM196.34 279.15h2.01v2.03h-2.01zM198.10 277.39h2.01v3.79h-2.01zM199.86 273.87h2.01v5.55h-2.01zM201.63 272.11h2.01v3.79h-2.01zM203.39 270.34h2.01v3.79h-2.01zM205.15 268.58h2.01v3.79h-2.01zM206.91 266.82h2.01v3.79h-2.01zM208.67 259.77h2.01v9.07h-2.01zM210.44 254.49h2.01v7.31h-2.01zM212.20 250.96h2.01v5.55h-2.01zM213.96 245.68h2.01v7.31h-2.01zM215.72 242.15h2.01v5.55h-2.01zM217.48 236.87h2.01v7.31h-2.01zM219.25 229.82h2.01v9.07h-2.01zM221.01 224.53h2.01v7.31h-2.01zM222.77 219.25h2.01v7.31h-2.01zM224.53 212.20h2.01v9.07h-2.01zM226.29 206.91h2.01v7.31h-2.01zM228.06 203.39h2.01v5.55h-2.01zM229.82 194.58h2.01v10.84h-2.01zM231.58 187.53h2.01v9.07h-2.01zM233.34 182.24h2.01v7.31h-2.01zM235.10 175.20h2.01v9.07h-2.01zM236.87 166.39h2.01v10.84h-2.01zM238.63 162.86h2.01v5.55h-2.01zM240.39 155.81h2.01v9.07h-2.01zM242.15 150.53h2.01v7.31h-2.01zM243.91 145.24h2.01v7.31h-2.01zM245.68 136.43h2.01v10.84h-2.01zM247.44 131.15h2.01v7.31h-2.01zM249.20 124.10h2.01v9.07h-2.01zM250.96 122.34h2.01v3.79h-2.01zM252.72 115.29h2.01v9.07h-2.01zM254.49 110.00h2.01v7.31h-2.01zM256.25 106.48h2.01v5.55h-2.01zM258.01 102.95h2.01v5.55h-2.01zM259.77 101.19h2.01v3.79h-2.01zM261.53 95.91h2.01v7.31h-2.01zM263.30 94.14h2.01v3.79h-2.01zM265.06 92.38h2.01v3.79h-2.01zM266.82 90.62h2.01v3.79h-2.01zM268.58 90.62h2.01v2.03h-2.01zM270.34 88.86h2.01v3.79h-2.01zM272.11 88.86h2.01v3.79h-2.01zM273.87 90.62h2.01v2.03h-2.01zM275.63 88.86h2.01v3.79h-2.01zM277.39 88.86h2.01v3.79h-2.01zM279.15 90.62h2.01v3.79h-2.01zM280.92 92.38h2.01v3.79h-2.01zM282.68 94.14h2.01v3.79h-2.01zM284.44 95.91h2.01v9.07h-2.01zM286.20 102.95h2.01v5.55h-2.01zM287.96 106.48h2.01v3.79h-2.01zM289.73 108.24h2.01v5.55h-2.01zM291.49 111.76h2.01v3.79h-2.01zM293.25 113.53h2.01v7.31h-2.01zM295.01 118.81h2.01v9.07h-2.01zM296.77 125.86h2.01v5.55h-2.01zM298.54 129.38h2.01v10.84h-2.01zM300.30 138.19h2.01v5.55h-2.01zM302.06 141.72h2.01v7.31h-2.01zM303.82 147.00h2.01v10.84h-2.01zM305.58 155.81h2.01v7.31h-2.01zM307.35 161.10h2.01v7.31h-2.01zM309.11 166.39h2.01v9.07h-2.01zM310.87 173.43h2.01v7.31h-2.01zM312.63 178.72h2.01v10.84h-2.01zM314.39 187.53h2.01v10.84h-2.01zM316.16 196.34h2.01v7.31h-2.01zM317.92 201.63h2.01v7.31h-2.01zM319.68 206.91h2.01v7.31h-2.01zM321.44 212.20h2.01v9.07h-2.01zM323.20 219.25h2.01v5.55h-2.01zM324.97 222.77h2.01v10.84h-2.01zM326.73 231.58h2.01v7.31h-2.01zM328.49 236.87h2.01v7.31h-2.01zM330.25 242.15h2.01v5.55h-2.01zM332.01 245.68h2.01v7.31h-2.01zM333.78 250.96h2.01v9.07h-2.01zM335.54 258.01h2.01v5.55h-2.01zM337.30 261.53h2.01v5.55h-2.01zM339.06 265.06h2.01v5.55h-2.01zM340.82 268.58h2.01v5.55h-2.01zM342.59 272.11h2.01v3.79h-2.01zM344.35 273.87h2.01v2.03h-2.01zM346.11 273.87h2.01v3.79h-2.01zM347.87 275.63h2.01v3.79h-2.01zM349.63 275.63h2.01v3.79h-2.01zM351.40 275.63h2.01v3.79h-2.01zM353.16 277.39h2.01v2.03h-2.01zM354.92 277.39h2.01v2.03h-2.01zM356.68 277.39h2.01v2.03h-2.01zM358.44 277.39h2.01v2.03h-2.01zM360.21 272.11h2.01v7.31h-2.01zM361.97 272.11h2.01v2.03h-2.01zM363.73 270.34h2.01v3.79h-2.01zM365.49 266.82h2.01v5.55h-2.01zM367.25 259.77h2.01v9.07h-2.01zM369.02 256.25h2.01v5.55h-2.01zM370.78 250.96h2.01v7.31h-2.01zM372.54 245.68h2.01v7.31h-2.01zM374.30 242.15h2.01v5.55h-2.01zM376.06 238.63h2.01v5.55h-2.01zM377.83 233.34h2.01v7.31h-2.01zM379.59 228.06h2.01v7.31h-2.01zM381.35 219.25h2.01v10.84h-2.01zM383.11 213.96h2.01v7.31h-2.01zM384.87 208.67h2.01v7.31h-2.01zM386.64 199.86h2.01v10.84h-2.01zM388.40 194.58h2.01v7.31h-2.01zM390.16 189.29h2.01v7.31h-2.01zM391.92 182.24h2.01v9.07h-2.01zM393.68 176.96h2.01v7.31h-2.01zM395.45 168.15h2.01v10.84h-2.01zM397.21 161.10h2.01v9.07h-2.01zM398.97 157.58h2.01v5.55h-2.01zM400.73 148.77h2.01v10.84h-2.01zM402.49 145.24h2.01v5.55h-2.01zM404.26 139.96h2.01v7.31h-2.01zM406.02 131.15h2.01v10.84h-2.01zM407.78 125.86h2.01v7.31h-2.01zM409.54 124.10h2.01v3.79h-2.01zM411.30 117.05h2.01v9.07h-2.01zM413.07 111.76h2.01v7.31h-2.01zM414.83 106.48h2.01v7.31h-2.01zM416.59 102.95h2.01v5.55h-2.01zM418.35 102.95h2.01v2.03h-2.01zM420.11 99.43h2.01v5.55h-2.01zM421.88 94.14h2.01v7.31h-2.01zM423.64 94.14h2.01v3.79h-2.01zM425.40 94.14h2.01v3.79h-2.01zM427.16 92.38h2.01v3.79h-2.01zM428.92 88.86h2.01v5.55h-2.01zM430.69 88.86h2.01v3.79h-2.01zM432.45 88.86h2.01v3.79h-2.01zM434.21 88.86h2.01v2.03h-2.01zM435.97 88.86h2.01v7.31h-2.01zM437.73 94.14h2.01v2.03h-2.01zM439.50 94.14h2.01v3.79h-2.01zM441.26 95.91h2.01v5.55h-2.01zM443.02 99.43h2.01v2.03h-2.01zM444.78 99.43h2.01v7.31h-2.01zM446.54 104.72h2.01v5.55h-2.01zM448.31 108.24h2.01v3.79h-2.01zM450.07 110.00h2.01v7.31h-2.01zM451.83 115.29h2.01v5.55h-2.01zM453.59 118.81h2.01v7.31h-2.01zM455.35 124.10h2.01v9.07h-2.01zM457.12 131.15h2.01v5.55h-2.01zM458.88 134.67h2.01v9.07h-2.01zM460.64 141.72h2.01v7.31h-2.01zM462.40 147.00h2.01v10.84h-2.01zM464.16 155.81h2.01v5.55h-2.01zM465.93 159.34h2.01v9.07h-2.01zM467.69 166.39h2.01v9.07h-2.01zM469.45 173.43h2.01v10.84h-2.01zM471.21 182.24h2.01v5.55h-2.01zM472.97 185.77h2.01v10.84h-2.01zM474.74 194.58h2.01v7.31h-2.01zM476.50 199.86h2.01v9.07h-2.01zM478.26 206.91h2.01v7.31h-2.01zM480.02 212.20h2.01v5.55h-2.01zM481.78 215.72h2.01v10.84h-2.01zM483.55 224.53h2.01v7.31h-2.01zM485.31 229.82h2.01v5.55h-2.01zM487.07 233.34h2.01v10.84h-2.01zM488.83 242.15h2.01v5.55h-2.01zM490.59 245.68h2.01v7.31h-2.01zM492.36 250.96h2.01v7.31h-2.01zM494.12 256.25h2.01v5.55h-2.01zM495.88 259.77h2.01v5.55h-2.01zM497.64 263.30h2.01v5.55h-2.01zM499.40 266.82h2.01v5.55h-2.01zM501.17 270.34h2.01v5.55h-2.01zM502.93 272.11h2.01v3.79h-2.01zM504.69 272.11h2.01v5.55h-2.01zM506.45 275.63h2.01v2.03h-2.01zM508.21 275.63h2.01v3.79h-2.01zM509.98 277.39h2.01v3.79h-2.01zM511.74 279.15h2.01v2.03h-2.01zM513.50 277.39h2.01v3.79h-2.01zM515.26 277.39h2.01v2.03h-2.01zM517.02 277.39h2.01v2.03h-2.01zM518.79 272.11h2.01v7.31h-2.01zM520.55 272.11h2.01v2.03h-2.01zM522.31 268.58h2.01v5.55h-2.01zM524.07 265.06h2.01v5.55h-2.01zM525.83 261.53h2.01v5.55h-2.01zM527.60 256.25h2.01v7.31h-2.01zM529.36 252.72h2.01v5.55h-2.01zM531.12 247.44h2.01v7.31h-2.01zM532.88 245.68h2.01v3.79h-2.01zM534.64 238.63h2.01v9.07h-2.01zM536.41 233.34h2.01v7.31h-2.01zM538.17 228.06h2.01v7.31h-2.01zM539.93 219.25h2.01v10.84h-2.01zM541.69 213.96h2.01v7.31h-2.01zM543.45 210.44h2.01v5.55h-2.01zM545.22 203.39h2.01v9.07h-2.01zM546.98 194.58h2.01v10.84h-2.01zM548.74 187.53h2.01v9.07h-2.01zM550.50 182.24h2.01v7.31h-2.01zM552.26 173.43h2.01v10.84h-2.01zM554.03 168.15h2.01v7.31h-2.01zM555.79 161.10h2.01v9.07h-2.01zM557.55 157.58h2.01v5.55h-2.01zM559.31 150.53h2.01v9.07h-2.01zM561.07 145.24h2.01v7.31h-2.01zM562.84 136.43h2.01v10.84h-2.01zM564.60 132.91h2.01v5.55h-2.01zM566.36 127.62h2.01v7.31h-2.01zM568.12 120.57h2.01v9.07h-2.01zM569.88 118.81h2.01v3.79h-2.01zM571.65 115.29h2.01v5.55h-2.01zM573.41 108.24h2.01v9.07h-2.01zM575.17 106.48h2.01v3.79h-2.01zM576.93 101.19h2.01v7.31h-2.01zM578.69 97.67h2.01v5.55h-2.01zM580.46 97.67h2.01v2.03h-2.01zM582.22 95.91h2.01v3.79h-2.01zM583.98 90.62h2.01v7.31h-2.01zM585.74 90.62h2.01v2.03h-2.01zM587.50 90.62h2.01v2.03h-2.01zM589.27 88.86h2.01v3.79h-2.01zM591.03 88.86h2.01v2.03h-2.01zM592.79 88.86h2.01v3.79h-2.01zM594.55 90.62h2.01v3.79h-2.01zM596.31 90.62h2.01v3.79h-2.01zM598.08 90.62h2.01v7.31h-2.01zM599.84 95.91h2.01v3.79h-2.01zM601.60 97.67h2.01v2.03h-2.01zM603.36 97.67h2.01v7.31h-2.01zM605.12 102.95h2.01v7.31h-2.01zM606.89 108.24h2.01v5.55h-2.01zM608.65 111.76h2.01v3.79h-2.01zM610.41 113.53h2.01v10.84h-2.01zM612.17 122.34h2.01v5.55h-2.01zM613.93 125.86h2.01v9.07h-2.01zM615.70 132.91h2.01v3.79h-2.01zM617.46 134.67h2.01v7.31h-2.01zM619.22 139.96h2.01v7.31h-2.01zM620.98 145.24h2.01v10.84h-2.01zM622.74 154.05h2.01v7.31h-2.01zM624.51 159.34h2.01v7.31h-2.01zM626.27 164.62h2.01v10.84h-2.01zM628.03 173.43h2.01v9.07h-2.01zM629.79 180.48h2.01v9.07h-2.01zM631.55 187.53h2.01v5.55h-2.01zM633.32 191.05h2.01v9.07h-2.01zM635.08 198.10h2.01v10.84h-2.01zM636.84 206.91h2.01v7.31h-2.01zM638.60 212.20h2.01v9.07h-2.01zM640.36 219.25h2.01v5.55h-2.01zM642.13 222.77h2.01v7.31h-2.01zM643.89 228.06h2.01v10.84h-2.01zM645.65 236.87h2.01v5.55h-2.01zM647.41 240.39h2.01v5.55h-2.01zM649.17 243.91h2.01v10.84h-2.01zM650.94 252.72h2.01v5.55h-2.01zM652.70 256.25h2.01v7.31h-2.01zM654.46 261.53h2.01v2.03h-2.01zM656.22 261.53h2.01v9.07h-2.01zM657.98 268.58h2.01v2.03h-2.01zM659.75 268.58h2.01v7.31h-2.01zM661.51 273.87h2.01v2.03h-2.01zM663.27 273.87h2.01v3.79h-2.01zM665.03 275.63h2.01v3.79h-2.01zM666.79 277.39h2.01v3.79h-2.01zM668.56 277.39h2.01v3.79h-2.01zM670.32 277.39h2.01v2.03h-2.01zM672.08 277.39h2.01v2.03h-2.01zM673.84 275.63h2.01v3.79h-2.01zM675.60 273.87h2.01v3.79h-2.01zM677.37 272.11h2.01v3.79h-2.01zM679.13 268.58h2.01v5.55h-2.01zM680.89 266.82h2.01v3.79h-2.01zM682.65 265.06h2.01v3.79h-2.01zM684.41 259.77h2.01v7.31h-2.01zM686.18 258.01h2.01v3.79h-2.01zM687.94 252.72h2.01v7.31h-2.01zM689.70 249.20h2.01v5.55h-2.01zM691.46 242.15h2.01v9.07h-2.01zM693.22 236.87h2.01v7.31h-2.01zM694.99 231.58h2.01v7.31h-2.01zM696.75 226.29h2.01v7.31h-2.01zM698.51 219.25h2.01v9.07h-2.01zM700.27 215.72h2.01v5.55h-2.01zM702.03 208.67h2.01v9.07h-2.01zM703.80 201.63h2.01v9.07h-2.01zM705.56 196.34h2.01v7.31h-2.01zM707.32 191.05h2.01v7.31h-2.01zM709.08 180.48h2.01v12.60h-2.01zM710.84 176.96h2.01v5.55h-2.01zM712.61 169.91h2.01v9.07h-2.01zM714.37 162.86h2.01v9.07h-2.01zM716.13 157.58h2.01v7.31h-2.01zM717.89 150.53h2.01v9.07h-2.01zM719.65 145.24h2.01v7.31h-2.01zM721.42 139.96h2.01v7.31h-2.01zM723.18 134.67h2.01v7.31h-2.01zM724.94 127.62h2.01v9.07h-2.01zM726.70 124.10h2.01v5.55h-2.01zM728.46 118.81h2.01v7.31h-2.01zM730.23 113.53h2.01v7.31h-2.01zM731.99 108.24h2.01v7.31h-2.01zM733.75 104.72h2.01v5.55h-2.01zM735.51 99.43h2.01v7.31h-2.01zM737.27 97.67h2.01v3.79h-2.01zM739.04 94.14h2.01v5.55h-2.01zM740.80 94.14h2.01v3.79h-2.01zM742.56 90.62h2.01v7.31h-2.01zM744.32 88.86h2.01v3.79h-2.01zM746.08 88.86h2.01v2.03h-2.01zM747.85 88.86h2.01v3.79h-2.01zM749.61 90.62h2.01v3.79h-2.01zM751.37 90.62h2.01v3.79h-2.01zM753.13 90.62h2.01v2.03h-2.01zM754.89 90.62h2.01v3.79h-2.01zM756.66 92.38h2.01v3.79h-2.01zM758.42 94.14h2.01v5.55h-2.01zM760.18 97.67h2.01v3.79h-2.01zM761.94 99.43h2.01v5.55h-2.01zM763.70 102.95h2.01v5.55h-2.01zM765.47 106.48h2.01v9.07h-2.01zM767.23 113.53h2.01v5.55h-2.01zM768.99 117.05h2.01v5.55h-2.01zM770.75 120.57h2.01v5.55h-2.01zM772.51 124.10h2.01v9.07h-2.01zM774.28 131.15h2.01v5.55h-2.01zM776.04 134.67h2.01v7.31h-2.01zM777.80 139.96h2.01v7.31h-2.01zM779.56 145.24h2.01v9.07h-2.01zM781.32 152.29h2.01v9.07h-2.01zM783.09 159.34h2.01v9.07h-2.01zM784.85 166.39h2.01v7.31h-2.01zM786.61 171.67h2.01v9.07h-2.01zM788.37 178.72h2.01v7.31h-2.01zM790.13 184.01h2.01v9.07h-2.01zM791.90 191.05h2.01v7.31h-2.01zM793.66 196.34h2.01v10.84h-2.01zM795.42 205.15h2.01v7.31h-2.01zM797.18 210.44h2.01v7.31h-2.01zM798.94 215.72h2.01v9.07h-2.01zM800.71 222.77h2.01v7.31h-2.01zM802.47 228.06h2.01v9.07h-2.01zM804.23 235.10h2.01v7.31h-2.01zM805.99 240.39h2.01v9.07h-2.01zM807.75 247.44h2.01v5.55h-2.01zM809.52 250.96h2.01v7.31h-2.01zM811.28 256.25h2.01v7.31h-2.01zM813.04 261.53h2.01v3.79h-2.01zM814.80 263.30h2.01v3.79h-2.01zM816.56 265.06h2.01v9.07h-2.01zM818.33 270.34h2.01v3.79h-2.01zM820.09 270.34h2.01v7.31h-2.01zM821.85 275.63h2.01v3.79h-2.01zM823.61 275.63h2.01v3.79h-2.01zM825.37 275.63h2.01v5.55h-2.01zM827.14 279.15h2.01v3.79h-2.01zM828.90 279.15h2.01v3.79h-2.01zM830.66 279.15h2.01v2.03h-2.01z" fill="#00e2e2"/>
<path d="M36.00 185.77h2.01v10.84h-2.01zM37.76 194.58h2.01v12.60h-2.01zM39.52 205.15h2.01v10.84h-2.01zM41.28 213.96h2.01v12.60h-2.01zM43.05 224.53h2.01v10.84h-2.01zM44.81 233.34h2.01v10.84h-2.01zM46.57 242.15h2.01v10.84h-2.01zM48.33 250.96h2.01v10.84h-2.01zM50.09 259.77h2.01v9.07h-2.01zM51.86 266.82h2.01v9.07h-2.01zM53.62 273.87h2.01v9.07h-2.01zM55.38 280.92h2.01v7.31h-2.01zM57.14 286.20h2.01v9.07h-2.01zM58.90 293.25h2.01v7.31h-2.01zM60.67 298.54h2.01v7.31h-2.01zM62.43 303.82h2.01v7.31h-2.01zM64.19 309.11h2.01v5.55h-2.01zM65.95 312.63h2.01v5.55h-2.01zM67.71 316.16h2.01v5.55h-2.01zM69.48 319.68h2.01v3.79h-2.01zM71.24 321.44h2.01v3.79h-2.01zM73.00 323.20h2.01v2.03h-2.01zM74.76 323.20h2.01v3.79h-2.01zM76.52 323.20h2.01v3.79h-2.01zM78.29 321.44h2.01v3.79h-2.01zM80.05 317.92h2.01v5.55h-2.01zM81.81 316.16h2.01v3.79h-2.01zM83.57 310.87h2.01v7.31h-2.01zM85.33 309.11h2.01v3.79h-2.01zM87.10 303.82h2.01v7.31h-2.01zM88.86 298.54h2.01v7.31h-2.01zM90.62 293.25h2.01v7.31h-2.01zM92.38 287.96h2.01v7.31h-2.01zM94.14 279.15h2.01v10.84h-2.01zM95.91 273.87h2.01v7.31h-2.01zM97.67 266.82h2.01v9.07h-2.01zM99.43 258.01h2.01v10.84h-2.01zM101.19 249.20h2.01v10.84h-2.01zM102.95 240.39h2.01v10.84h-2.01zM104.72 231.58h2.01v10.84h-2.01zM106.48 222.77h2.01v10.84h-2.01zM108.24 213.96h2.01v10.84h-2.01zM110.00 203.39h2.01v12.60h-2.01zM111.76 192.82h2.01v12.60h-2.01zM113.53 184.01h2.01v10.84h-2.01zM115.29 175.20h2.01v10.84h-2.01zM117.05 166.39h2.01v10.84h-2.01zM118.81 155.81h2.01v12.60h-2.01zM120.57 147.00h2.01v10.84h-2.01zM122.34 136.43h2.01v12.60h-2.01zM124.10 127.62h2.01v10.84h-2.01zM125.86 120.57h2.01v9.07h-2.01zM127.62 111.76h2.01v10.84h-2.01zM129.38 104.72h2.01v9.07h-2.01zM131.15 97.67h2.01v9.07h-2.01zM132.91 88.86h2.01v10.84h-2.01zM134.67 83.57h2.01v7.31h-2.01zM136.43 76.52h2.01v9.07h-2.01zM138.19 71.24h2.01v7.31h-2.01zM139.96 64.19h2.01v9.07h-2.01zM141.72 62.43h2.01v3.79h-2.01zM143.48 57.14h2.01v7.31h-2.01zM145.24 55.38h2.01v3.79h-2.01zM147.00 51.86h2.01v5.55h-2.01zM148.77 48.33h2.01v5.55h-2.01zM150.53 48.33h2.01v2.03h-2.01zM152.29 48.33h2.01v2.03h-2.01zM154.05 48.33h2.01v2.03h-2.01zM155.81 48.33h2.01v2.03h-2.01zM157.58 48.33h2.01v2.03h-2.01zM159.34 48.33h2.01v3.79h-2.01zM161.10 50.09h2.01v5.55h-2.01zM162.86 53.62h2.01v3.79h-2.01zM164.62 55.38h2.01v7.31h-2.01zM166.39 60.67h2.01v5.55h-2.01zM168.15 64.19h2.01v7.31h-2.01zM169.91 69.48h2.01v9.07h-2.01zM171.67 76.52h2.01v7.31h-2.01zM173.43 81.81h2.01v9.07h-2.01zM175.20 88.86h2.01v9.07h-2.01zM176.96 95.91h2.01v9.07h-2.01zM178.72 102.95h2.01v10.84h-2.01zM180.48 111.76h2.01v9.07h-2.01zM182.24 118.81h2.01v10.84h-2.01zM184.01 127.62h2.01v10.84h-2.01zM185.77 136.43h2.01v10.84h-2.01zM187.53 145.24h2.01v10.84h-2.01zM189.29 154.05h2.01v12.60h-2.01zM191.05 164.62h2.01v10.84h-2.01zM192.82 173.43h2.01v10.84h-2.01zM194.58 182.24h2.01v12.60h-2.01zM196.34 192.82h2.01v10.84h-2.01zM198.10 201.63h2.01v12.60h-2.01zM199.86 212.20h2.01v10.84h-2.01zM201.63 221.01h2.01v10.84h-2.01zM203.39 229.82h2.01v12.60h-2.01zM205.15 240.39h2.01v10.84h-2.01zM206.91 249.20h2.01v9.07h-2.01zM208.67 256.25h2.01v10.84h-2.01zM210.44 265.06h2.01v9.07h-2.01zM212.20 272.11h2.01v9.07h-2.01zM213.96 279.15h2.01v7.31h-2.01zM215.72 284.44h2.01v9.07h-2.01zM217.48 291.49h2.01v7.31h-2.01zM219.25 296.77h2.01v9.07h-2.01zM221.01 303.82h2.01v5.55h-2.01zM222.77 307.35h2.01v5.55h-2.01zM224.53 310.87h2.01v5.55h-2.01zM226.29 314.39h2.01v5.55h-2.01zM228.06 317.92h2.01v3.79h-2.01zM229.82 319.68h2.01v3.79h-2.01zM231.58 321.44h2.01v5.55h-2.01zM233.34 324.97h2.01v2.03h-2.01zM235.10 324.97h2.01v2.03h-2.01zM236.87 321.44h2.01v5.55h-2.01zM238.63 317.92h2.01v5.55h-2.01zM240.39 316.16h2.01v3.79h-2.01zM242.15 312.63h2.01v5.55h-2.01zM243.91 309.11h2.01v5.55h-2.01zM245.68 305.58h2.01v5.55h-2.01zM247.44 300.30h2.01v7.31h-2.01zM249.20 295.01h2.01v7.31h-2.01zM250.96 287.96h2.01v9.07h-2.01zM252.72 282.68h2.01v7.31h-2.01zM254.49 275.63h2.01v9.07h-2.01zM256.25 266.82h2.01v10.84h-2.01zM258.01 259.77h2.01v9.07h-2.01zM259.77 250.96h2.01v10.84h-2.01zM261.53 243.91h2.01v9.07h-2.01zM263.30 233.34h2.01v12.60h-2.01zM265.06 226.29h2.01v9.07h-2.01zM266.82 215.72h2.01v12.60h-2.01zM268.58 205.15h2.01v12.60h-2.01zM270.34 196.34h2.01v10.84h-2.01zM272.11 187.53h2.01v10.84h-2.01zM273.87 176.96h2.01v12.60h-2.01zM275.63 168.15h2.01v10.84h-2.01zM277.39 157.58h2.01v12.60h-2.01zM279.15 148.77h2.01v10.84h-2.01zM280.92 139.96h2.01v10.84h-2.01zM282.68 132.91h2.01v9.07h-2.01zM284.44 122.34h2.01v12.60h-2.01zM286.20 115.29h2.01v9.07h-2.01zM287.96 106.48h2.01v10.84h-2.01zM289.73 99.43h2.01v9.07h-2.01zM291.49 90.62h2.01v10.84h-2.01zM293.25 83.57h2.01v9.07h-2.01zM295.01 78.29h2.01v7.31h-2.01zM296.77 71.24h2.01v9.07h-2.01zM298.54 67.71h2.01v5.55h-2.01zM300.30 62.43h2.01v7.31h-2.01zM302.06 57.14h2.01v7.31h-2.01zM303.82 55.38h2.01v3.79h-2.01zM305.58 53.62h2.01v3.79h-2.01zM307.35 50.09h2.01v5.55h-2.01zM309.11 48.33h2.01v3.79h-2.01zM310.87 46.57h2.01v3.79h-2.01zM312.63 46.57h2.01v2.03h-2.01zM314.39 46.57h2.01v2.03h-2.01zM316.16 46.57h2.01v3.79h-2.01zM317.92 48.33h2.01v3.79h-2.01zM319.68 50.09h2.01v3.79h-2.01zM321.44 51.86h2.01v5.55h-2.01zM323.20 55.38h2.01v7.31h-2.01zM324.97 60.67h2.01v5.55h-2.01zM326.73 64.19h2.01v5.55h-2.01zM328.49 67.71h2.01v7.31h-2.01zM330.25 73.00h2.01v9.07h-2.01zM332.01 80.05h2.01v7.31h-2.01zM333.78 85.33h2.01v9.07h-2.01zM335.54 92.38h2.01v9.07h-2.01zM337.30 99.43h2.01v10.84h-2.01zM339.06 108.24h2.01v10.84h-2.01zM340.82 117.05h2.01v9.07h-2.01zM342.59 124.10h2.01v12.60h-2.01zM344.35 134.67h2.01v10.84h-2.01zM346.11 143.48h2.01v10.84h-2.01zM347.87 152.29h2.01v10.84h-2.01zM349.63 161.10h2.01v10.84h-2.01zM351.40 169.91h2.01v12.60h-2.01zM353.16 180.48h2.01v10.84h-2.01zM354.92 189.29h2.01v12.60h-2.01zM356.68 199.86h2.01v12.60h-2.01zM358.44 210.44h2.01v10.84h-2.01zM360.21 219.25h2.01v10.84h-2.01zM361.97 228.06h2.01v9.07h-2.01zM363.73 235.10h2.01v10.84h-2.01zM365.49 243.91h2.01v12.60h-2.01zM367.25 254.49h2.01v10.84h-2.01zM369.02 263.30h2.01v9.07h-2.01zM370.78 270.34h2.01v9.07h-2.01zM372.54 277.39h2.01v7.31h-2.01zM374.30 282.68h2.01v9.07h-2.01zM376.06 289.73h2.01v9.07h-2.01zM377.83 296.77h2.01v7.31h-2.01zM379.59 302.06h2.01v7.31h-2.01zM381.35 307.35h2.01v5.55h-2.01zM383.11 310.87h2.01v5.55h-2.01zM384.87 314.39h2.01v3.79h-2.01zM386.64 316.16h2.01v5.55h-2.01zM388.40 319.68h2.01v3.79h-2.01zM390.16 321.44h2.01v5.55h-2.01zM391.92 324.97h2.01v2.03h-2.01zM393.68 324.97h2.01v2.03h-2.01zM395.45 323.20h2.01v3.79h-2.01zM397.21 319.68h2.01v5.55h-2.01zM398.97 316.16h2.01v5.55h-2.01zM400.73 314.39h2.01v3.79h-2.01zM402.49 309.11h2.01v7.31h-2.01zM404.26 307.35h2.01v3.79h-2.01zM406.02 300.30h2.01v9.07h-2.01zM407.78 296.77h2.01v5.55h-2.01zM409.54 289.73h2.01v9.07h-2.01zM411.30 282.68h2.01v9.07h-2.01zM413.07 275.63h2.01v9.07h-2.01zM414.83 268.58h2.01v9.07h-2.01zM416.59 261.53h2.01v9.07h-2.01zM418.35 254.49h2.01v9.07h-2.01zM420.11 243.91h2.01v12.60h-2.01zM421.88 235.10h2.01v10.84h-2.01zM423.64 228.06h2.01v9.07h-2.01zM425.40 219.25h2.01v10.84h-2.01zM427.16 208.67h2.01v12.60h-2.01zM428.92 198.10h2.01v12.60h-2.01zM430.69 189.29h2.01v10.84h-2.01zM432.45 178.72h2.01v12.60h-2.01zM434.21 169.91h2.01v10.84h-2.01zM435.97 161.10h2.01v10.84h-2.01zM437.73 152.29h2.01v10.84h-2.01zM439.50 143.48h2.01v10.84h-2.01zM441.26 134.67h2.01v10.84h-2.01zM443.02 124.10h2.01v12.60h-2.01zM444.78 115.29h2.01v10.84h-2.01zM446.54 108.24h2.01v9.07h-2.01zM448.31 101.19h2.01v9.07h-2.01zM450.07 94.14h2.01v9.07h-2.01zM451.83 85.33h2.01v10.84h-2.01zM453.59 78.29h2.01v9.07h-2.01zM455.35 73.00h2.01v7.31h-2.01zM457.12 69.48h2.01v5.55h-2.01zM458.88 64.19h2.01v7.31h-2.01zM460.64 58.90h2.01v7.31h-2.01zM462.40 55.38h2.01v5.55h-2.01zM464.16 53.62h2.01v3.79h-2.01zM465.93 50.09h2.01v5.55h-2.01zM467.69 48.33h2.01v3.79h-2.01zM469.45 46.57h2.01v3.79h-2.01zM471.21 46.57h2.01v2.03h-2.01zM472.97 46.57h2.01v3.79h-2.01zM474.74 48.33h2.01v2.03h-2.01zM476.50 48.33h2.01v3.79h-2.01zM478.26 50.09h2.01v3.79h-2.01zM480.02 51.86h2.01v5.55h-2.01zM481.78 55.38h2.01v3.79h-2.01zM483.55 57.14h2.01v9.07h-2.01zM485.31 64.19h2.01v5.55h-2.01zM487.07 67.71h2.01v7.31h-2.01zM488.83 73.00h2.01v7.31h-2.01zM490.59 78.29h2.01v7.31h-2.01zM492.36 83.57h2.01v10.84h-2.01zM494.12 92.38h2.01v7.31h-2.01zM495.88 97.67h2.01v10.84h-2.01zM497.64 106.48h2.01v10.84h-2.01zM499.40 115.29h2.01v9.07h-2.01zM501.17 122.34h2.01v10.84h-2.01zM502.93 131.15h2.01v10.84h-2.01zM504.69 139.96h2.01v12.60h-2.01zM506.45 150.53h2.01v10.84h-2.01zM508.21 159.34h2.01v10.84h-2.01zM509.98 168.15h2.01v12.60h-2.01zM511.74 178.72h2.01v10.84h-2.01zM513.50 187.53h2.01v12.60h-2.01zM515.26 198.10h2.01v10.84h-2.01zM517.02 206.91h2.01v10.84h-2.01zM518.79 215.72h2.01v10.84h-2.01zM520.55 224.53h2.01v10.84h-2.01zM522.31 233.34h2.01v12.60h-2.01zM524.07 243.91h2.01v10.84h-2.01zM525.83 252.72h2.01v9.07h-2.01zM527.60 259.77h2.01v10.84h-2.01zM529.36 268.58h2.01v9.07h-2.01zM531.12 275.63h2.01v9.07h-2.01zM532.88 282.68h2.01v7.31h-2.01zM534.64 287.96h2.01v9.07h-2.01zM536.41 295.01h2.01v7.31h-2.01zM538.17 300.30h2.01v5.55h-2.01zM539.93 303.82h2.01v7.31h-2.01zM541.69 309.11h2.01v5.55h-2.01zM543.45 312.63h2.01v5.55h-2.01zM545.22 316.16h2.01v5.55h-2.01zM546.98 319.68h2.01v3.79h-2.01zM548.74 321.44h2.01v3.79h-2.01zM550.50 323.20h2.01v3.79h-2.01zM552.26 323.20h2.01v3.79h-2.01zM554.03 323.20h2.01v2.03h-2.01zM555.79 319.68h2.01v5.55h-2.01zM557.55 317.92h2.01v3.79h-2.01zM559.31 314.39h2.01v5.55h-2.01zM561.07 310.87h2.01v5.55h-2.01zM562.84 307.35h2.01v5.55h-2.01zM564.60 303.82h2.01v5.55h-2.01zM566.36 296.77h2.01v9.07h-2.01zM568.12 291.49h2.01v7.31h-2.01zM569.88 286.20h2.01v7.31h-2.01zM571.65 279.15h2.01v9.07h-2.01zM573.41 272.11h2.01v9.07h-2.01zM575.17 263.30h2.01v10.84h-2.01zM576.93 256.25h2.01v9.07h-2.01zM578.69 247.44h2.01v10.84h-2.01zM580.46 238.63h2.01v10.84h-2.01zM582.22 229.82h2.01v10.84h-2.01zM583.98 221.01h2.01v10.84h-2.01zM585.74 212.20h2.01v10.84h-2.01zM587.50 201.63h2.01v12.60h-2.01zM589.27 191.05h2.01v12.60h-2.01zM591.03 182.24h2.01v10.84h-2.01zM592.79 173.43h2.01v10.84h-2.01zM594.55 162.86h2.01v12.60h-2.01zM596.31 154.05h2.01v10.84h-2.01zM598.08 145.24h2.01v10.84h-2.01zM599.84 136.43h2.01v10.84h-2.01zM601.60 127.62h2.01v10.84h-2.01zM603.36 118.81h2.01v10.84h-2.01zM605.12 110.00h2.01v10.84h-2.01zM606.89 101.19h2.01v10.84h-2.01zM608.65 95.91h2.01v7.31h-2.01zM610.41 87.10h2.01v10.84h-2.01zM612.17 81.81h2.01v7.31h-2.01zM613.93 74.76h2.01v9.07h-2.01zM615.70 69.48h2.01v7.31h-2.01zM617.46 65.95h2.01v5.55h-2.01zM619.22 60.67h2.01v7.31h-2.01zM620.98 57.14h2.01v5.55h-2.01zM622.74 51.86h2.01v7.31h-2.01zM624.51 50.09h2.01v3.79h-2.01zM626.27 48.33h2.01v3.79h-2.01zM628.03 48.33h2.01v2.03h-2.01zM629.79 48.33h2.01v2.03h-2.01zM631.55 46.57h2.01v3.79h-2.01zM633.32 46.57h2.01v2.03h-2.01zM635.08 46.57h2.01v3.79h-2.01zM636.84 48.33h2.01v5.55h-2.01zM638.60 51.86h2.01v5.55h-2.01zM640.36 55.38h2.01v3.79h-2.01zM642.13 57.14h2.01v7.31h-2.01zM643.89 62.43h2.01v5.55h-2.01zM645.65 65.95h2.01v7.31h-2.01zM647.41 71.24h2.01v7.31h-2.01zM649.17 76.52h2.01v9.07h-2.01zM650.94 83.57h2.01v7.31h-2.01zM652.70 88.86h2.01v9.07h-2.01zM654.46 95.91h2.01v10.84h-2.01zM656.22 104.72h2.01v10.84h-2.01zM657.98 113.53h2.01v9.07h-2.01zM659.75 120.57h2.01v10.84h-2.01zM661.51 129.38h2.01v10.84h-2.01zM663.27 138.19h2.01v10.84h-2.01zM665.03 147.00h2.01v10.84h-2.01zM666.79 155.81h2.01v10.84h-2.01zM668.56 164.62h2.01v12.60h-2.01zM670.32 175.20h2.01v10.84h-2.01zM672.08 184.01h2.01v14.36h-2.01zM673.84 196.34h2.01v10.84h-2.01zM675.60 205.15h2.01v10.84h-2.01zM677.37 213.96h2.01v10.84h-2.01zM679.13 222.77h2.01v10.84h-2.01zM680.89 231.58h2.01v10.84h-2.01zM682.65 240.39h2.01v10.84h-2.01zM684.41 249.20h2.01v10.84h-2.01zM686.18 258.01h2.01v9.07h-2.01zM687.94 265.06h2.01v9.07h-2.01zM689.70 272.11h2.01v10.84h-2.01zM691.46 280.92h2.01v9.07h-2.01zM693.22 287.96h2.01v7.31h-2.01zM694.99 293.25h2.01v7.31h-2.01zM696.75 298.54h2.01v7.31h-2.01zM698.51 303.82h2.01v7.31h-2.01zM700.27 309.11h2.01v3.79h-2.01zM702.03 310.87h2.01v7.31h-2.01zM703.80 316.16h2.01v3.79h-2.01zM705.56 317.92h2.01v5.55h-2.01zM707.32 321.44h2.01v3.79h-2.01zM709.08 323.20h2.01v3.79h-2.01zM710.84 323.20h2.01v3.79h-2.01zM712.61 323.20h2.01v2.03h-2.01zM714.37 321.44h2.01v3.79h-2.01zM716.13 317.92h2.01v5.55h-2.01zM717.89 316.16h2.01v3.79h-2.01zM719.65 312.63h2.01v5.55h-2.01zM721.42 307.35h2.01v7.31h-2.01zM723.18 303.82h2.01v5.55h-2.01zM724.94 300.30h2.01v5.55h-2.01zM726.70 293.25h2.01v9.07h-2.01zM728.46 286.20h2.01v9.07h-2.01zM730.23 280.92h2.01v7.31h-2.01zM731.99 273.87h2.01v9.07h-2.01zM733.75 266.82h2.01v9.07h-2.01zM735.51 258.01h2.01v10.84h-2.01zM737.27 249.20h2.01v10.84h-2.01zM739.04 242.15h2.01v9.07h-2.01zM740.80 233.34h2.01v10.84h-2.01zM742.56 224.53h2.01v10.84h-2.01zM744.32 212.20h2.01v14.36h-2.01zM746.08 203.39h2.01v10.84h-2.01zM747.85 194.58h2.01v10.84h-2.01zM749.61 184.01h2.01v12.60h-2.01zM751.37 176.96h2.01v9.07h-2.01zM753.13 166.39h2.01v12.60h-2.01zM754.89 157.58h2.01v10.84h-2.01zM756.66 147.00h2.01v12.60h-2.01zM758.42 138.19h2.01v10.84h-2.01zM760.18 129.38h2.01v10.84h-2.01zM761.94 120.57h2.01v10.84h-2.01zM763.70 113.53h2.01v9.07h-2.01zM765.47 104.72h2.01v10.84h-2.01zM767.23 95.91h2.01v10.84h-2.01zM768.99 90.62h2.01v7.31h-2.01zM770.75 83.57h2.01v9.07h-2.01zM772.51 76.52h2.01v9.07h-2.01zM774.28 71.24h2.01v7.31h-2.01zM776.04 65.95h2.01v7.31h-2.01zM777.80 60.67h2.01v7.31h-2.01zM779.56 57.14h2.01v5.55h-2.01zM781.32 53.62h2.01v5.55h-2.01zM783.09 51.86h2.01v3.79h-2.01zM784.85 48.33h2.01v5.55h-2.01zM786.61 46.57h2.01v3.79h-2.01zM788.37 46.57h2.01v2.03h-2.01zM790.13 46.57h2.01v2.03h-2.01zM791.90 46.57h2.01v2.03h-2.01zM793.66 46.57h2.01v3.79h-2.01zM795.42 48.33h2.01v3.79h-2.01zM797.18 50.09h2.01v5.55h-2.01zM798.94 53.62h2.01v5.55h-2.01zM800.71 57.14h2.01v3.79h-2.01zM802.47 58.90h2.01v7.31h-2.01zM804.23 64.19h2.01v7.31h-2.01zM805.99 69.48h2.01v7.31h-2.01zM807.75 74.76h2.01v9.07h-2.01zM809.52 81.81h2.01v7.31h-2.01zM811.28 87.10h2.01v9.07h-2.01zM813.04 94.14h2.01v10.84h-2.01zM814.80 102.95h2.01v9.07h-2.01zM816.56 110.00h2.01v10.84h-2.01zM818.33 118.81h2.01v9.07h-2.01zM820.09 125.86h2.01v12.60h-2.01zM821.85 136.43h2.01v10.84h-2.01zM823.61 145.24h2.01v10.84h-2.01zM825.37 154.05h2.01v10.84h-2.01zM827.14 162.86h2.01v12.60h-2.01zM828.90 173.43h2.01v12.60h-2.01zM830.66 184.01h2.01v10.84h-2.01z" fill="#1010f8"/>
<rect x="36.1" y="23.15" width="796.9" height="354.6" fill="none" stroke="#0e1c1c" stroke-width="2.3"/>
<rect x="312" y="6.8" width="245" height="4" fill="#fde8e4"/>
<rect x="312" y="7.8" width="245" height="2" fill="#00e2e2"/>
<path d="M315.3 1.6H311v15.6h4.3" fill="none" stroke="#c6c6c6" stroke-width="1.2"/>
<path d="M553.8 1.6h4.2v15.6h-4.2" fill="none" stroke="#c6c6c6" stroke-width="1.2"/>
<path d="M427.7 0.9h13.4l-6.7 6.2z" fill="#f0a000"/>
<path d="M428.4 7.5h12.3v8.9l-6.15 5.7-6.15-5.7z" fill="#f0b478"/>
<path d="M431.7 10.6h5.5v2.2h-1.8v6.2h-1.9v-6.2h-1.8z" fill="#ffffff"/>
<path d="M427.7 24.1h13.4l-6.7 6.2z" fill="#f0a000"/>
<path d="M428.4 30.700000000000003h12.3v8.9l-6.15 5.7-6.15-5.7z" fill="#f0b478"/>
<path d="M431.7 33.800000000000004h5.5v2.2h-1.8v6.2h-1.9v-6.2h-1.8z" fill="#ffffff"/>
<path d="M1.6 174.8h24l8.6 8.8-8.6 9.2h-24z" fill="#00dcdc" stroke="#fbe4e0" stroke-width="1.8" paint-order="stroke"/>
<path d="M819.4 184.5l7.4-6v4.6h5.4v3h-5.4v4.6z" fill="#1010f8"/>
<rect x="1.35" y="383.85" width="313.10" height="26.20" rx="4.5" ry="4.5" fill="#efefef" stroke="#1c1c1c" stroke-width="2.3"/>
<rect x="4.00" y="385.00" width="307.80" height="1.6" fill="#fafafa"/>
<rect x="318.45" y="333.05" width="170.20" height="26.40" rx="4.5" ry="4.5" fill="#efefef" stroke="#1c1c1c" stroke-width="2.3"/>
<rect x="321.10" y="334.20" width="164.90" height="1.6" fill="#fafafa"/>
<rect x="493.15" y="333.05" width="243.90" height="26.40" rx="4.5" ry="4.5" fill="#efefef" stroke="#1c1c1c" stroke-width="2.3"/>
<rect x="495.80" y="334.20" width="238.60" height="1.6" fill="#fafafa"/>
<rect x="318.55" y="359.75" width="419.50" height="50.10" rx="4.5" ry="4.5" fill="#efefef" stroke="#1c1c1c" stroke-width="2.3"/>
<rect x="321.20" y="360.90" width="414.20" height="1.6" fill="#fafafa"/>
<rect x="738.65" y="383.55" width="106.00" height="26.30" rx="6" ry="6" fill="#efefef" stroke="#1c1c1c" stroke-width="2.3"/>
<rect x="741.30" y="384.70" width="100.70" height="1.6" fill="#fafafa"/>
<circle cx="850" cy="397" r="5" fill="#8a8a8a"/>
<path d="M8.40 389.6H28.90L33.5 394.20V402.40L28.90 407H8.40L3.8 402.40V394.20z" fill="#1c1ce8" stroke="#1c1ce8" stroke-width="0.4" stroke-linejoin="round"/>
<path d="M17.65 391.90h2.0V405.40h-2.0V394.50l-3.4 2.6v-2.2z" fill="#ffffff"/>
<path d="M179.00 389.6H200.00L204.6 394.20V402.40L200.00 407H179.00L174.4 402.40V394.20z" fill="#92e8e8" stroke="#92e8e8" stroke-width="0.4" stroke-linejoin="round"/>
<text x="189.80" y="405.00" font-size="18.6" fill="#e4fafa" text-anchor="middle" transform="translate(189.50 0) scale(0.82 1) translate(-189.50 0)">2</text>
<path d="M499.60 338.8H520.40L525 343.40V351.60L520.40 356.2H499.60L495 351.60V343.40z" fill="#1c1ce8" stroke="#1c1ce8" stroke-width="0.4" stroke-linejoin="round"/>
<path d="M509.00 341.10h2.0V354.60h-2.0V343.70l-3.4 2.6v-2.2z" fill="#ffffff"/>
<path d="M325.40 366.8H346.10L350.7 371.40V379.50L346.10 384.1H325.40L320.8 379.50V371.40z" fill="#1c1ce8" stroke="#1c1ce8" stroke-width="0.4" stroke-linejoin="round"/>
<path d="M334.75 369.10h2.0V382.50h-2.0V371.70l-3.4 2.6v-2.2z" fill="#ffffff"/>
<path d="M325.40 389.9H346.10L350.7 394.50V402.60L346.10 407.2H325.40L320.8 402.60V394.50z" fill="#92e8e8" stroke="#92e8e8" stroke-width="0.4" stroke-linejoin="round"/>
<text x="336.05" y="405.20" font-size="18.6" fill="#e4fafa" text-anchor="middle" transform="translate(335.75 0) scale(0.82 1) translate(-335.75 0)">2</text>
<path d="M534.60 366.8H555.40L560 371.40V379.50L555.40 384.1H534.60L530 379.50V371.40z" fill="#1c1ce8" stroke="#1c1ce8" stroke-width="0.4" stroke-linejoin="round"/>
<path d="M544.00 369.10h2.0V382.50h-2.0V371.70l-3.4 2.6v-2.2z" fill="#ffffff"/>
<path d="M534.60 389.9H555.40L560 394.50V402.60L555.40 407.2H534.60L530 402.60V394.50z" fill="#92e8e8" stroke="#92e8e8" stroke-width="0.4" stroke-linejoin="round"/>
<text x="545.30" y="405.20" font-size="18.6" fill="#e4fafa" text-anchor="middle" transform="translate(545.00 0) scale(0.82 1) translate(-545.00 0)">2</text>
<text x="5.6" y="16.3" font-family="Liberation Serif" font-weight="bold" font-size="26.20" fill="#0a0a0a" stroke="#0a0a0a" stroke-width="0.6" textLength="38.80" lengthAdjust="spacingAndGlyphs">Tek</text>
<text x="48.7" y="16.2" font-family="Liberation Sans" font-weight="normal" font-size="20.02" fill="#14140a" stroke="#14140a" stroke-width="0.6" textLength="33.30" lengthAdjust="spacingAndGlyphs">Stop</text>
<text x="641.4" y="15.6" font-family="Liberation Sans" font-weight="normal" font-size="18.74" fill="#14140a" stroke="#14140a" stroke-width="0.6" textLength="37.10" lengthAdjust="spacingAndGlyphs">Noise</text>
<text x="683.8" y="15.6" font-family="Liberation Sans" font-weight="normal" font-size="18.74" fill="#14140a" stroke="#14140a" stroke-width="0.6" textLength="35.00" lengthAdjust="spacingAndGlyphs">Filter</text>
<text x="723.7" y="15.6" font-family="Liberation Sans" font-weight="normal" font-size="18.74" fill="#14140a" stroke="#14140a" stroke-width="0.6" textLength="23.40" lengthAdjust="spacingAndGlyphs">Off</text>
<text x="49.4" y="403.8" font-family="Liberation Sans" font-weight="normal" font-size="20.45" fill="#1010f8" stroke="#1010f8" stroke-width="0.6" textLength="39.40" lengthAdjust="spacingAndGlyphs">100 V</text>
<text x="219.8" y="403.8" font-family="Liberation Sans" font-weight="normal" font-size="20.45" fill="#00e2e2" stroke="#00e2e2" stroke-width="0.6" textLength="42.70" lengthAdjust="spacingAndGlyphs">20.0 A</text>
<text x="321" y="352.3" font-family="Liberation Sans" font-weight="normal" font-size="19.28" fill="#14140a" stroke="#14140a" stroke-width="0.6" textLength="49.00" lengthAdjust="spacingAndGlyphs">10.0ms</text>
<text x="419.1" y="352.4" font-family="Liberation Sans" font-weight="normal" font-size="19.38" fill="#f0a000" stroke="#f0a000" stroke-width="0.6" textLength="66.30" lengthAdjust="spacingAndGlyphs">0.00000 s</text>
<text x="553.1" y="352.4" font-family="Liberation Sans" font-weight="normal" font-size="19.38" fill="#14140a" stroke="#14140a" stroke-width="0.6" textLength="43.20" lengthAdjust="spacingAndGlyphs">0.00 V</text>
<text x="658.8" y="352.4" font-family="Liberation Sans" font-weight="normal" font-size="19.38" fill="#14140a" stroke="#14140a" stroke-width="0.6" textLength="76.20" lengthAdjust="spacingAndGlyphs">49.9936 Hz</text>
<text x="352.5" y="380.5" font-family="Liberation Sans" font-weight="normal" font-size="19.38" fill="#1010f8" stroke="#1010f8" stroke-width="0.6" textLength="32.20" lengthAdjust="spacingAndGlyphs">RMS</text>
<text x="431.5" y="380.5" font-family="Liberation Sans" font-weight="normal" font-size="19.38" fill="#1010f8" stroke="#1010f8" stroke-width="0.6" textLength="39.00" lengthAdjust="spacingAndGlyphs">221 V</text>
<text x="561.5" y="380.5" font-family="Liberation Sans" font-weight="normal" font-size="19.38" fill="#1010f8" stroke="#1010f8" stroke-width="0.6" textLength="31.30" lengthAdjust="spacingAndGlyphs">Freq</text>
<text x="641.5" y="380.5" font-family="Liberation Sans" font-weight="normal" font-size="19.38" fill="#1010f8" stroke="#1010f8" stroke-width="0.6" textLength="59.00" lengthAdjust="spacingAndGlyphs">49.93 Hz</text>
<text x="352.5" y="403.7" font-family="Liberation Sans" font-weight="normal" font-size="19.38" fill="#00e2e2" stroke="#00e2e2" stroke-width="0.6" textLength="32.20" lengthAdjust="spacingAndGlyphs">RMS</text>
<text x="431.5" y="403.7" font-family="Liberation Sans" font-weight="normal" font-size="19.38" fill="#00e2e2" stroke="#00e2e2" stroke-width="0.6" textLength="42.50" lengthAdjust="spacingAndGlyphs">29.9 A</text>
<text x="561.5" y="403.7" font-family="Liberation Sans" font-weight="normal" font-size="19.38" fill="#00e2e2" stroke="#00e2e2" stroke-width="0.6" textLength="31.30" lengthAdjust="spacingAndGlyphs">Freq</text>
<text x="641.5" y="403.7" font-family="Liberation Sans" font-weight="normal" font-size="19.38" fill="#00e2e2" stroke="#00e2e2" stroke-width="0.6" textLength="59.00" lengthAdjust="spacingAndGlyphs">50.12 Hz</text>
<text x="742.2" y="405" font-family="Liberation Sans" font-weight="normal" font-size="19.81" fill="#14140a" stroke="#14140a" stroke-width="0.6" textLength="58.70" lengthAdjust="spacingAndGlyphs">16:22:24</text>
<text x="123" y="401.5" font-size="17.3" fill="#1010f8" stroke="#1010f8" stroke-width="0.5" textLength="6.6" lengthAdjust="spacingAndGlyphs">B</text>
<text x="130" y="405.3" font-size="17.3" fill="#1010f8" stroke="#1010f8" stroke-width="0.5" textLength="9.8" lengthAdjust="spacingAndGlyphs">W</text>
<text x="294" y="401.5" font-size="17.3" fill="#00e2e2" stroke="#00e2e2" stroke-width="0.5" textLength="6.6" lengthAdjust="spacingAndGlyphs">B</text>
<text x="301" y="405.3" font-size="17.3" fill="#00e2e2" stroke="#00e2e2" stroke-width="0.5" textLength="9.8" lengthAdjust="spacingAndGlyphs">W</text>
<text x="6.6" y="190.3" font-size="17" fill="#e8fbfb" textLength="7.6" lengthAdjust="spacingAndGlyphs">2</text>
<path d="M535.4 351.2h4.4l7.4-11.2h2.6" fill="none" stroke="#14140a" stroke-width="2"/>
</g>
</svg>
</body></html>
